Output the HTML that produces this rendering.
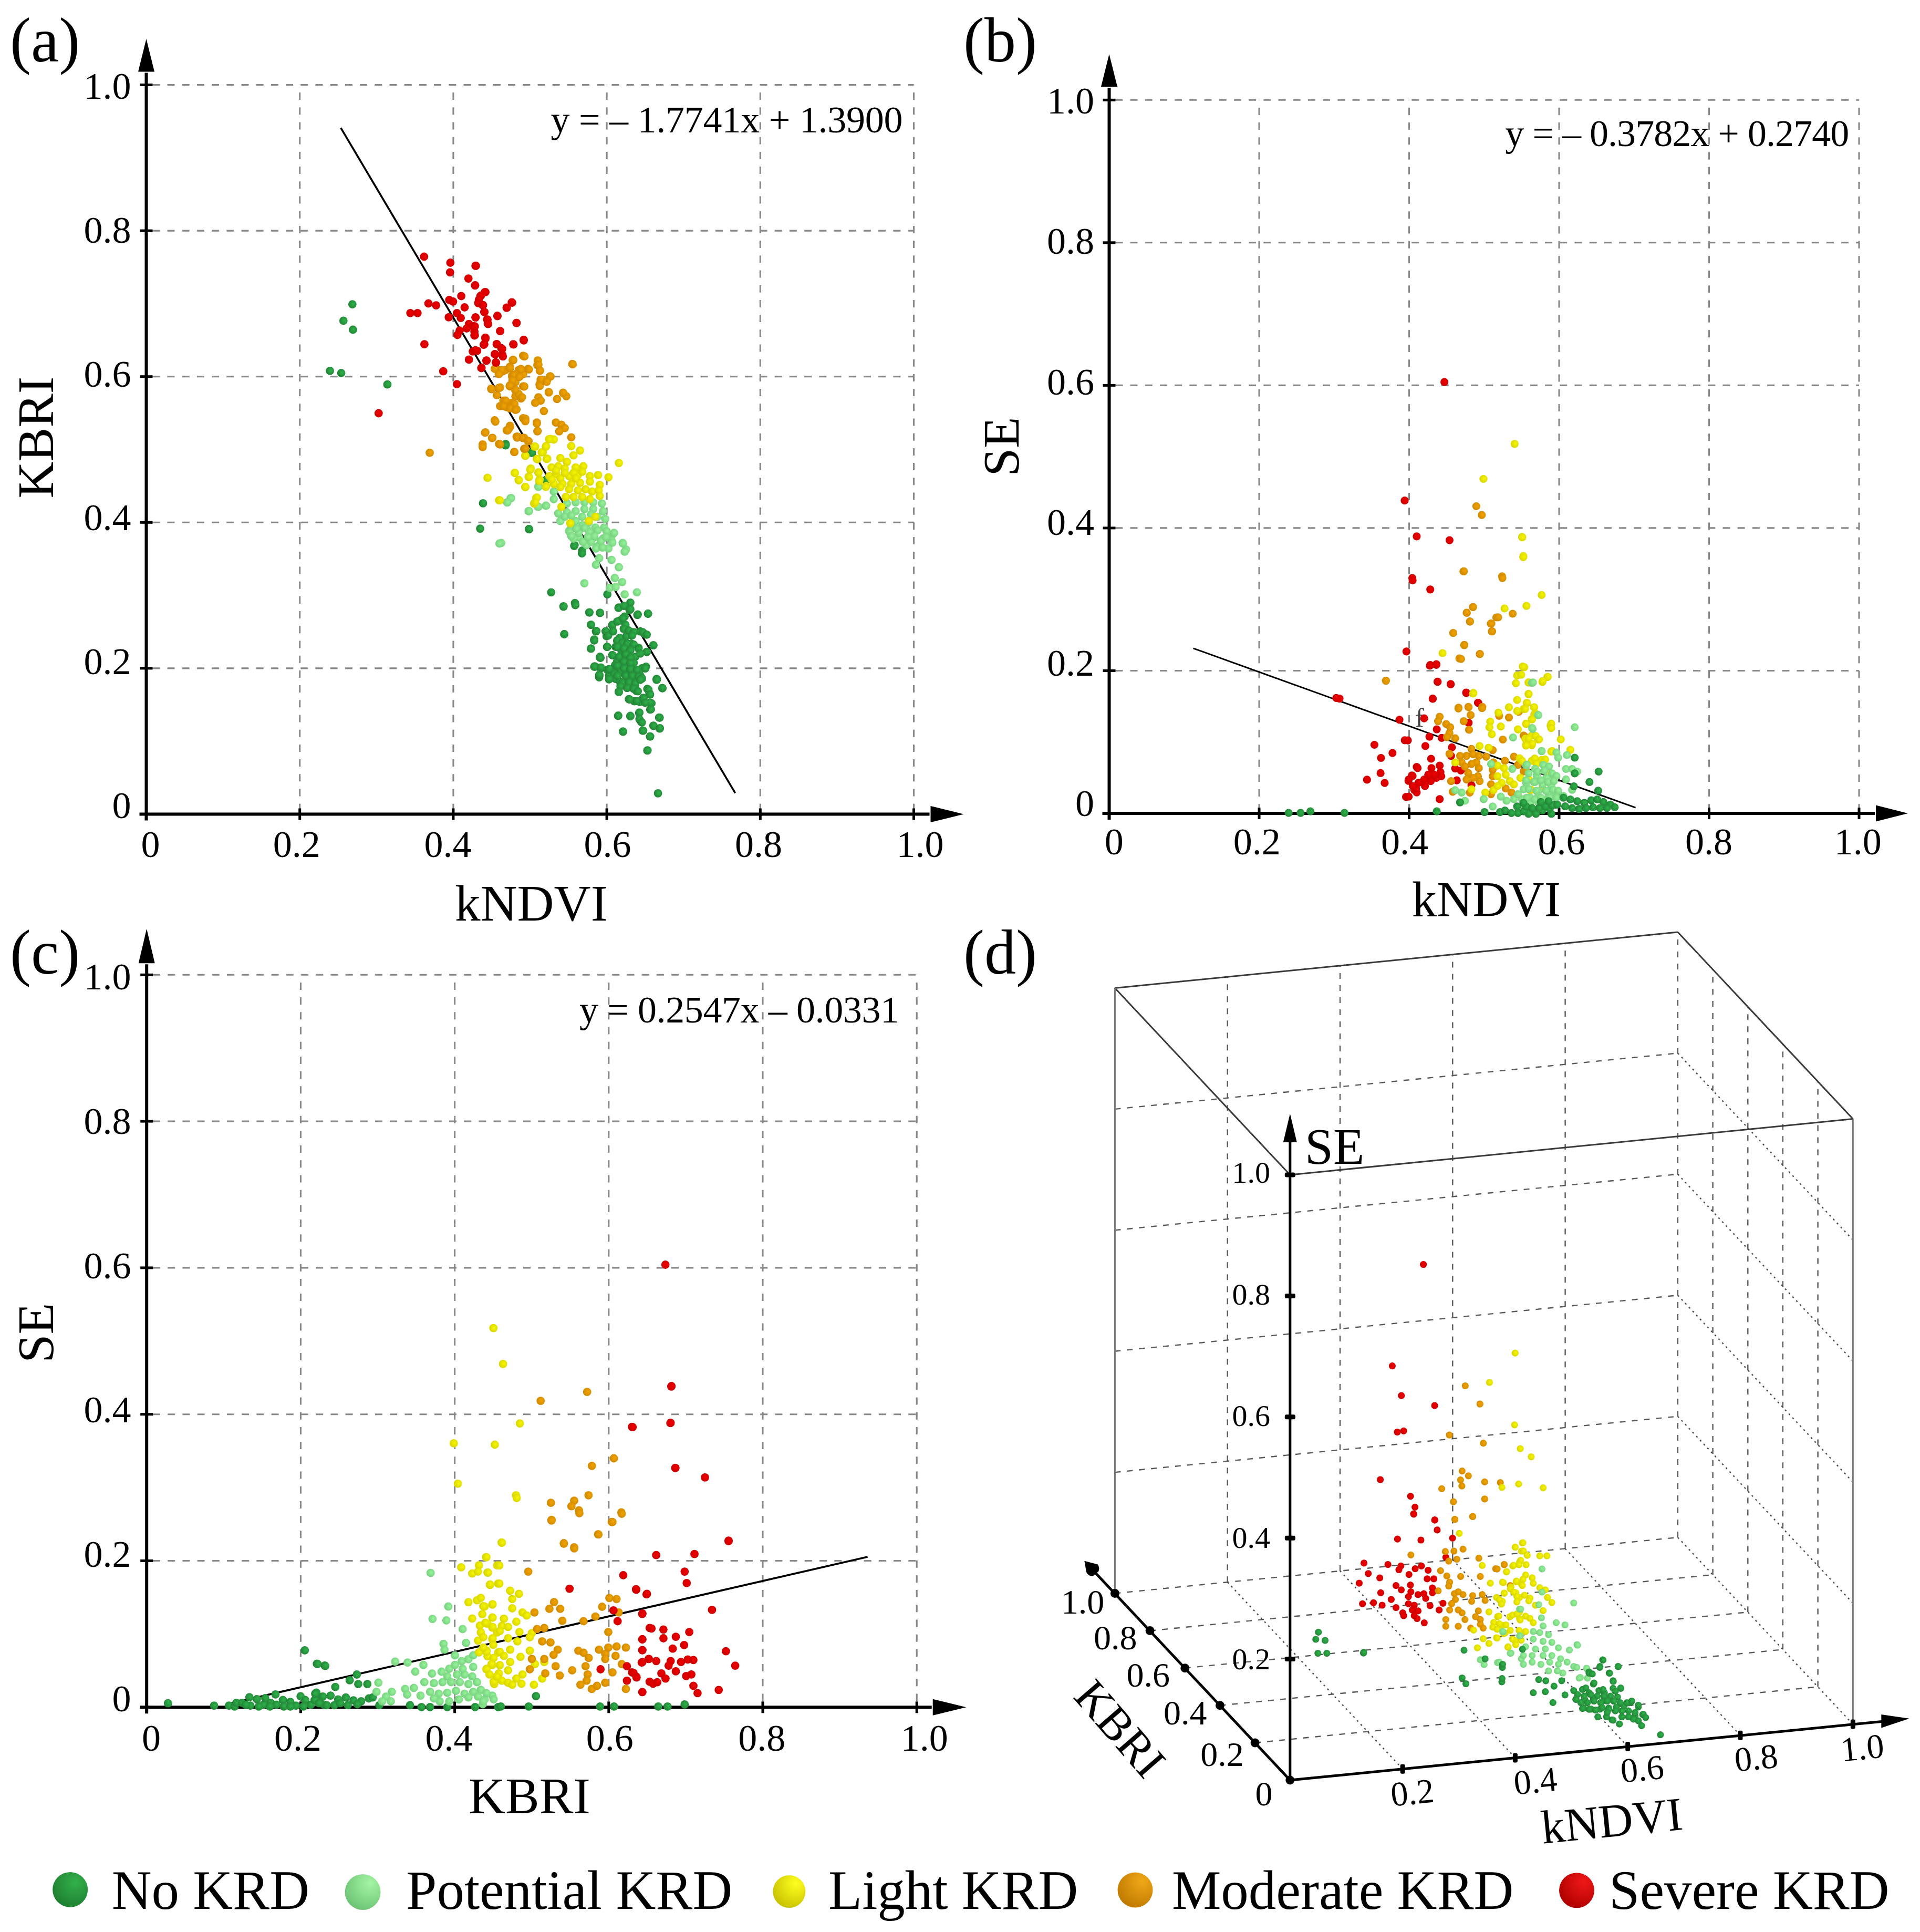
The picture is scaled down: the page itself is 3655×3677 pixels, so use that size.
<!DOCTYPE html><html><head><meta charset="utf-8"><style>html,body{margin:0;padding:0;background:#fff;}svg{display:block}</style></head><body>
<svg xmlns="http://www.w3.org/2000/svg" width="3655" height="3677" viewBox="0 0 3655 3677" font-family="'Liberation Serif', 'Times New Roman', serif">
<rect width="3655" height="3677" fill="#fff"/>
<defs>
<radialGradient id="Lg" cx="0.65" cy="0.3" r="0.8"><stop offset="0" stop-color="#33b04a"/><stop offset="1" stop-color="#1c7a2e"/></radialGradient>
<radialGradient id="Llg" cx="0.7" cy="0.25" r="0.8"><stop offset="0" stop-color="#a4f5a4"/><stop offset="1" stop-color="#6cc474"/></radialGradient>
<radialGradient id="Ly" cx="0.7" cy="0.25" r="0.8"><stop offset="0" stop-color="#ffff20"/><stop offset="1" stop-color="#c8c200"/></radialGradient>
<radialGradient id="Lo" cx="0.7" cy="0.25" r="0.8"><stop offset="0" stop-color="#f0a818"/><stop offset="1" stop-color="#c07a00"/></radialGradient>
<radialGradient id="Lr" cx="0.7" cy="0.25" r="0.8"><stop offset="0" stop-color="#f01818"/><stop offset="1" stop-color="#b00000"/></radialGradient>
<radialGradient id="Dg" cx="0.6" cy="0.45" r="0.6"><stop offset="0" stop-color="#2db24a"/><stop offset="1" stop-color="#238236"/></radialGradient>
<radialGradient id="Dl" cx="0.6" cy="0.45" r="0.6"><stop offset="0" stop-color="#96f29a"/><stop offset="1" stop-color="#76d07e"/></radialGradient>
<radialGradient id="Dy" cx="0.6" cy="0.45" r="0.6"><stop offset="0" stop-color="#f6f600"/><stop offset="1" stop-color="#d8d400"/></radialGradient>
<radialGradient id="Do" cx="0.6" cy="0.45" r="0.6"><stop offset="0" stop-color="#f0a400"/><stop offset="1" stop-color="#d08800"/></radialGradient>
<radialGradient id="Dr" cx="0.6" cy="0.45" r="0.6"><stop offset="0" stop-color="#f00000"/><stop offset="1" stop-color="#c80000"/></radialGradient>
</defs>
<line x1="570.7" y1="161.5" x2="570.7" y2="1549.5" stroke="#888" stroke-width="3.1" stroke-dasharray="14 14.2" fill="none" stroke-dashoffset="13.6"/>
<line x1="278.5" y1="1271.9" x2="1739.5" y2="1271.9" stroke="#888" stroke-width="3.1" stroke-dasharray="14 14.2" fill="none" stroke-dashoffset="16.4"/>
<line x1="862.9" y1="161.5" x2="862.9" y2="1549.5" stroke="#888" stroke-width="3.1" stroke-dasharray="14 14.2" fill="none" stroke-dashoffset="13.6"/>
<line x1="278.5" y1="994.3" x2="1739.5" y2="994.3" stroke="#888" stroke-width="3.1" stroke-dasharray="14 14.2" fill="none" stroke-dashoffset="16.4"/>
<line x1="1155.1" y1="161.5" x2="1155.1" y2="1549.5" stroke="#888" stroke-width="3.1" stroke-dasharray="14 14.2" fill="none" stroke-dashoffset="13.6"/>
<line x1="278.5" y1="716.7" x2="1739.5" y2="716.7" stroke="#888" stroke-width="3.1" stroke-dasharray="14 14.2" fill="none" stroke-dashoffset="16.4"/>
<line x1="1447.3" y1="161.5" x2="1447.3" y2="1549.5" stroke="#888" stroke-width="3.1" stroke-dasharray="14 14.2" fill="none" stroke-dashoffset="13.6"/>
<line x1="278.5" y1="439.1" x2="1739.5" y2="439.1" stroke="#888" stroke-width="3.1" stroke-dasharray="14 14.2" fill="none" stroke-dashoffset="16.4"/>
<line x1="1739.5" y1="161.5" x2="1739.5" y2="1549.5" stroke="#888" stroke-width="3.1" stroke-dasharray="14 14.2" fill="none" stroke-dashoffset="13.6"/>
<line x1="278.5" y1="161.5" x2="1739.5" y2="161.5" stroke="#888" stroke-width="3.1" stroke-dasharray="14 14.2" fill="none" stroke-dashoffset="16.4"/>
<line x1="278.5" y1="1561.5" x2="278.5" y2="138.5" stroke="#000" stroke-width="6" fill="none"/>
<polygon points="278.5,74 263.0,136.5 294.0,136.5" fill="#000"/>
<line x1="265.5" y1="1549.5" x2="1769.5" y2="1549.5" stroke="#000" stroke-width="6" fill="none"/>
<polygon points="1834.7,1549.5 1771.5,1534.0 1771.5,1565.0" fill="#000"/>
<line x1="266.5" y1="1549.5" x2="290.5" y2="1549.5" stroke="#000" stroke-width="5"/>
<line x1="278.5" y1="1538.5" x2="278.5" y2="1560.5" stroke="#000" stroke-width="5"/>
<line x1="266.5" y1="1271.9" x2="290.5" y2="1271.9" stroke="#000" stroke-width="5"/>
<line x1="570.7" y1="1538.5" x2="570.7" y2="1560.5" stroke="#000" stroke-width="5"/>
<line x1="266.5" y1="994.3" x2="290.5" y2="994.3" stroke="#000" stroke-width="5"/>
<line x1="862.9" y1="1538.5" x2="862.9" y2="1560.5" stroke="#000" stroke-width="5"/>
<line x1="266.5" y1="716.7" x2="290.5" y2="716.7" stroke="#000" stroke-width="5"/>
<line x1="1155.1" y1="1538.5" x2="1155.1" y2="1560.5" stroke="#000" stroke-width="5"/>
<line x1="266.5" y1="439.1" x2="290.5" y2="439.1" stroke="#000" stroke-width="5"/>
<line x1="1447.3" y1="1538.5" x2="1447.3" y2="1560.5" stroke="#000" stroke-width="5"/>
<line x1="266.5" y1="161.5" x2="290.5" y2="161.5" stroke="#000" stroke-width="5"/>
<line x1="1739.5" y1="1538.5" x2="1739.5" y2="1560.5" stroke="#000" stroke-width="5"/>
<text x="249.5" y="1557.0" font-size="72" text-anchor="end" >0</text>
<text x="249.5" y="1283.2" font-size="72" text-anchor="end" >0.2</text>
<text x="249.5" y="1009.4" font-size="72" text-anchor="end" >0.4</text>
<text x="249.5" y="735.6" font-size="72" text-anchor="end" >0.6</text>
<text x="249.5" y="461.8" font-size="72" text-anchor="end" >0.8</text>
<text x="249.5" y="188.0" font-size="72" text-anchor="end" >1.0</text>
<text x="268.5" y="1631.0" font-size="72" text-anchor="start" >0</text>
<text x="519.7" y="1631.0" font-size="72" text-anchor="start" >0.2</text>
<text x="807.5" y="1631.0" font-size="72" text-anchor="start" >0.4</text>
<text x="1111.6" y="1631.0" font-size="72" text-anchor="start" >0.6</text>
<text x="1399.0" y="1631.0" font-size="72" text-anchor="start" >0.8</text>
<text x="1706.5" y="1631.0" font-size="72" text-anchor="start" >1.0</text>
<line x1="2397.0" y1="190.3" x2="2397.0" y2="1548.0" stroke="#888" stroke-width="3.1" stroke-dasharray="14 14.2" fill="none" stroke-dashoffset="13.6"/>
<line x1="2111.5" y1="1276.5" x2="3539.0" y2="1276.5" stroke="#888" stroke-width="3.1" stroke-dasharray="14 14.2" fill="none" stroke-dashoffset="16.4"/>
<line x1="2682.5" y1="190.3" x2="2682.5" y2="1548.0" stroke="#888" stroke-width="3.1" stroke-dasharray="14 14.2" fill="none" stroke-dashoffset="13.6"/>
<line x1="2111.5" y1="1004.9" x2="3539.0" y2="1004.9" stroke="#888" stroke-width="3.1" stroke-dasharray="14 14.2" fill="none" stroke-dashoffset="16.4"/>
<line x1="2968.0" y1="190.3" x2="2968.0" y2="1548.0" stroke="#888" stroke-width="3.1" stroke-dasharray="14 14.2" fill="none" stroke-dashoffset="13.6"/>
<line x1="2111.5" y1="733.4" x2="3539.0" y2="733.4" stroke="#888" stroke-width="3.1" stroke-dasharray="14 14.2" fill="none" stroke-dashoffset="16.4"/>
<line x1="3253.5" y1="190.3" x2="3253.5" y2="1548.0" stroke="#888" stroke-width="3.1" stroke-dasharray="14 14.2" fill="none" stroke-dashoffset="13.6"/>
<line x1="2111.5" y1="461.8" x2="3539.0" y2="461.8" stroke="#888" stroke-width="3.1" stroke-dasharray="14 14.2" fill="none" stroke-dashoffset="16.4"/>
<line x1="3539.0" y1="190.3" x2="3539.0" y2="1548.0" stroke="#888" stroke-width="3.1" stroke-dasharray="14 14.2" fill="none" stroke-dashoffset="13.6"/>
<line x1="2111.5" y1="190.3" x2="3539.0" y2="190.3" stroke="#888" stroke-width="3.1" stroke-dasharray="14 14.2" fill="none" stroke-dashoffset="16.4"/>
<line x1="2111.5" y1="1560.0" x2="2111.5" y2="167" stroke="#000" stroke-width="6" fill="none"/>
<polygon points="2111.5,103 2096.0,165 2127.0,165" fill="#000"/>
<line x1="2098.5" y1="1548.0" x2="3569" y2="1548.0" stroke="#000" stroke-width="6" fill="none"/>
<polygon points="3632,1548.0 3571,1532.5 3571,1563.5" fill="#000"/>
<line x1="2099.5" y1="1548.0" x2="2123.5" y2="1548.0" stroke="#000" stroke-width="5"/>
<line x1="2111.5" y1="1537.0" x2="2111.5" y2="1559.0" stroke="#000" stroke-width="5"/>
<line x1="2099.5" y1="1276.5" x2="2123.5" y2="1276.5" stroke="#000" stroke-width="5"/>
<line x1="2397.0" y1="1537.0" x2="2397.0" y2="1559.0" stroke="#000" stroke-width="5"/>
<line x1="2099.5" y1="1004.9" x2="2123.5" y2="1004.9" stroke="#000" stroke-width="5"/>
<line x1="2682.5" y1="1537.0" x2="2682.5" y2="1559.0" stroke="#000" stroke-width="5"/>
<line x1="2099.5" y1="733.4" x2="2123.5" y2="733.4" stroke="#000" stroke-width="5"/>
<line x1="2968.0" y1="1537.0" x2="2968.0" y2="1559.0" stroke="#000" stroke-width="5"/>
<line x1="2099.5" y1="461.8" x2="2123.5" y2="461.8" stroke="#000" stroke-width="5"/>
<line x1="3253.5" y1="1537.0" x2="3253.5" y2="1559.0" stroke="#000" stroke-width="5"/>
<line x1="2099.5" y1="190.3" x2="2123.5" y2="190.3" stroke="#000" stroke-width="5"/>
<line x1="3539.0" y1="1537.0" x2="3539.0" y2="1559.0" stroke="#000" stroke-width="5"/>
<text x="2083.0" y="1553.0" font-size="72" text-anchor="end" >0</text>
<text x="2083.0" y="1285.6" font-size="72" text-anchor="end" >0.2</text>
<text x="2083.0" y="1018.2" font-size="72" text-anchor="end" >0.4</text>
<text x="2083.0" y="750.8" font-size="72" text-anchor="end" >0.6</text>
<text x="2083.0" y="483.4" font-size="72" text-anchor="end" >0.8</text>
<text x="2083.0" y="216.0" font-size="72" text-anchor="end" >1.0</text>
<text x="2102.8" y="1625.5" font-size="72" text-anchor="start" >0</text>
<text x="2347.8" y="1625.5" font-size="72" text-anchor="start" >0.2</text>
<text x="2629.0" y="1625.5" font-size="72" text-anchor="start" >0.4</text>
<text x="2927.5" y="1625.5" font-size="72" text-anchor="start" >0.6</text>
<text x="3208.0" y="1625.5" font-size="72" text-anchor="start" >0.8</text>
<text x="3491.7" y="1625.5" font-size="72" text-anchor="start" >1.0</text>
<line x1="572.4" y1="1855.3" x2="572.4" y2="3249.3" stroke="#888" stroke-width="3.1" stroke-dasharray="14 14.2" fill="none" stroke-dashoffset="13.6"/>
<line x1="279.2" y1="2970.5" x2="1745.2" y2="2970.5" stroke="#888" stroke-width="3.1" stroke-dasharray="14 14.2" fill="none" stroke-dashoffset="16.4"/>
<line x1="865.6" y1="1855.3" x2="865.6" y2="3249.3" stroke="#888" stroke-width="3.1" stroke-dasharray="14 14.2" fill="none" stroke-dashoffset="13.6"/>
<line x1="279.2" y1="2691.7" x2="1745.2" y2="2691.7" stroke="#888" stroke-width="3.1" stroke-dasharray="14 14.2" fill="none" stroke-dashoffset="16.4"/>
<line x1="1158.8" y1="1855.3" x2="1158.8" y2="3249.3" stroke="#888" stroke-width="3.1" stroke-dasharray="14 14.2" fill="none" stroke-dashoffset="13.6"/>
<line x1="279.2" y1="2412.9" x2="1745.2" y2="2412.9" stroke="#888" stroke-width="3.1" stroke-dasharray="14 14.2" fill="none" stroke-dashoffset="16.4"/>
<line x1="1452.0" y1="1855.3" x2="1452.0" y2="3249.3" stroke="#888" stroke-width="3.1" stroke-dasharray="14 14.2" fill="none" stroke-dashoffset="13.6"/>
<line x1="279.2" y1="2134.1" x2="1745.2" y2="2134.1" stroke="#888" stroke-width="3.1" stroke-dasharray="14 14.2" fill="none" stroke-dashoffset="16.4"/>
<line x1="1745.2" y1="1855.3" x2="1745.2" y2="3249.3" stroke="#888" stroke-width="3.1" stroke-dasharray="14 14.2" fill="none" stroke-dashoffset="13.6"/>
<line x1="279.2" y1="1855.3" x2="1745.2" y2="1855.3" stroke="#888" stroke-width="3.1" stroke-dasharray="14 14.2" fill="none" stroke-dashoffset="16.4"/>
<line x1="279.2" y1="3261.3" x2="279.2" y2="1835.3" stroke="#000" stroke-width="6" fill="none"/>
<polygon points="279.2,1767.7 263.7,1833.3 294.7,1833.3" fill="#000"/>
<line x1="266.2" y1="3249.3" x2="1773.7" y2="3249.3" stroke="#000" stroke-width="6" fill="none"/>
<polygon points="1839.4,3249.3 1775.7,3233.8 1775.7,3264.8" fill="#000"/>
<line x1="267.2" y1="3249.3" x2="291.2" y2="3249.3" stroke="#000" stroke-width="5"/>
<line x1="279.2" y1="3238.3" x2="279.2" y2="3260.3" stroke="#000" stroke-width="5"/>
<line x1="267.2" y1="2970.5" x2="291.2" y2="2970.5" stroke="#000" stroke-width="5"/>
<line x1="572.4" y1="3238.3" x2="572.4" y2="3260.3" stroke="#000" stroke-width="5"/>
<line x1="267.2" y1="2691.7" x2="291.2" y2="2691.7" stroke="#000" stroke-width="5"/>
<line x1="865.6" y1="3238.3" x2="865.6" y2="3260.3" stroke="#000" stroke-width="5"/>
<line x1="267.2" y1="2412.9" x2="291.2" y2="2412.9" stroke="#000" stroke-width="5"/>
<line x1="1158.8" y1="3238.3" x2="1158.8" y2="3260.3" stroke="#000" stroke-width="5"/>
<line x1="267.2" y1="2134.1" x2="291.2" y2="2134.1" stroke="#000" stroke-width="5"/>
<line x1="1452.0" y1="3238.3" x2="1452.0" y2="3260.3" stroke="#000" stroke-width="5"/>
<line x1="267.2" y1="1855.3" x2="291.2" y2="1855.3" stroke="#000" stroke-width="5"/>
<line x1="1745.2" y1="3238.3" x2="1745.2" y2="3260.3" stroke="#000" stroke-width="5"/>
<text x="249.5" y="3257.0" font-size="72" text-anchor="end" >0</text>
<text x="249.5" y="2982.2" font-size="72" text-anchor="end" >0.2</text>
<text x="249.5" y="2707.4" font-size="72" text-anchor="end" >0.4</text>
<text x="249.5" y="2432.6" font-size="72" text-anchor="end" >0.6</text>
<text x="249.5" y="2157.8" font-size="72" text-anchor="end" >0.8</text>
<text x="249.5" y="1883.0" font-size="72" text-anchor="end" >1.0</text>
<text x="269.9" y="3332.0" font-size="72" text-anchor="start" >0</text>
<text x="522.0" y="3332.0" font-size="72" text-anchor="start" >0.2</text>
<text x="809.5" y="3332.0" font-size="72" text-anchor="start" >0.4</text>
<text x="1115.8" y="3332.0" font-size="72" text-anchor="start" >0.6</text>
<text x="1405.3" y="3332.0" font-size="72" text-anchor="start" >0.8</text>
<text x="1714.8" y="3332.0" font-size="72" text-anchor="start" >1.0</text>
<text x="19.0" y="117.0" font-size="120" text-anchor="start" >(a)</text>
<text x="1834.0" y="117.0" font-size="120" text-anchor="start" >(b)</text>
<text x="19.0" y="1853.0" font-size="120" text-anchor="start" >(c)</text>
<text x="1834.0" y="1853.0" font-size="120" text-anchor="start" >(d)</text>
<text x="866.0" y="1752.0" font-size="97" text-anchor="start" >kNDVI</text>
<text transform="translate(100.7,948.6) rotate(-90)" font-size="97">KBRI</text>
<text x="2687.7" y="1743.5" font-size="94.5" text-anchor="start" >kNDVI</text>
<text transform="translate(1938.5,906.8) rotate(-90)" font-size="97">SE</text>
<text transform="translate(100.7,2594) rotate(-90)" font-size="98">SE</text>
<text x="892.0" y="3451.3" font-size="97" text-anchor="start" >KBRI</text>
<text x="1048.5" y="252.3" font-size="72" text-anchor="start" textLength="670" lengthAdjust="spacing">y = – 1.7741x + 1.3900</text>
<text x="2865.2" y="278.0" font-size="72" text-anchor="start" textLength="655" lengthAdjust="spacing">y = – 0.3782x + 0.2740</text>
<text x="1103.0" y="1945.5" font-size="72" text-anchor="start" textLength="609" lengthAdjust="spacing">y = 0.2547x – 0.0331</text>
<circle cx="133.6" cy="3596.4" r="33.5" fill="url(#Lg)"/>
<text x="212.7" y="3632.5" font-size="105" text-anchor="start" >No KRD</text>
<circle cx="690.6" cy="3601" r="34" fill="url(#Llg)"/>
<text x="773.0" y="3632.5" font-size="105" text-anchor="start" >Potential KRD</text>
<circle cx="1502.4" cy="3600" r="31" fill="url(#Ly)"/>
<text x="1577.0" y="3632.5" font-size="105" text-anchor="start" >Light KRD</text>
<circle cx="2161" cy="3597" r="33.5" fill="url(#Lo)"/>
<text x="2231.0" y="3632.5" font-size="105" text-anchor="start" >Moderate KRD</text>
<circle cx="3001.5" cy="3597.8" r="33.5" fill="url(#Lr)"/>
<text x="3063.0" y="3632.5" font-size="105" text-anchor="start" >Severe KRD</text>
<line x1="2336.7" y1="3011.2" x2="2336.7" y2="1859.2" stroke="#5a5a5a" stroke-width="2.4" stroke-dasharray="11 12"/>
<line x1="2122.4" y1="2802.1" x2="3193.9" y2="2695.6" stroke="#5a5a5a" stroke-width="2.4" stroke-dasharray="11 12"/>
<line x1="3460.6" y1="3210.4" x2="3460.6" y2="2058.4" stroke="#5a5a5a" stroke-width="2.4" stroke-dasharray="11 12"/>
<line x1="3527.3" y1="3051.1" x2="3193.9" y2="2695.6" stroke="#4a4a4a" stroke-width="2.4" stroke-dasharray="3.4 6.9"/>
<line x1="2389.1" y1="3316.9" x2="3460.6" y2="3210.4" stroke="#5a5a5a" stroke-width="2.4" stroke-dasharray="11 12"/>
<line x1="2670.1" y1="3366.7" x2="2336.7" y2="3011.2" stroke="#4a4a4a" stroke-width="2.4" stroke-dasharray="3.4 6.9"/>
<line x1="2551.0" y1="2989.9" x2="2551.0" y2="1837.9" stroke="#5a5a5a" stroke-width="2.4" stroke-dasharray="11 12"/>
<line x1="2122.4" y1="2571.7" x2="3193.9" y2="2465.2" stroke="#5a5a5a" stroke-width="2.4" stroke-dasharray="11 12"/>
<line x1="3393.9" y1="3139.3" x2="3393.9" y2="1987.3" stroke="#5a5a5a" stroke-width="2.4" stroke-dasharray="11 12"/>
<line x1="3527.3" y1="2820.7" x2="3193.9" y2="2465.2" stroke="#4a4a4a" stroke-width="2.4" stroke-dasharray="3.4 6.9"/>
<line x1="2322.4" y1="3245.8" x2="3393.9" y2="3139.3" stroke="#5a5a5a" stroke-width="2.4" stroke-dasharray="11 12"/>
<line x1="2884.4" y1="3345.4" x2="2551.0" y2="2989.9" stroke="#4a4a4a" stroke-width="2.4" stroke-dasharray="3.4 6.9"/>
<line x1="2765.3" y1="2968.6" x2="2765.3" y2="1816.6" stroke="#5a5a5a" stroke-width="2.4" stroke-dasharray="11 12"/>
<line x1="2122.4" y1="2341.3" x2="3193.9" y2="2234.8" stroke="#5a5a5a" stroke-width="2.4" stroke-dasharray="11 12"/>
<line x1="3327.3" y1="3068.2" x2="3327.3" y2="1916.2" stroke="#5a5a5a" stroke-width="2.4" stroke-dasharray="11 12"/>
<line x1="3527.3" y1="2590.3" x2="3193.9" y2="2234.8" stroke="#4a4a4a" stroke-width="2.4" stroke-dasharray="3.4 6.9"/>
<line x1="2255.8" y1="3174.7" x2="3327.3" y2="3068.2" stroke="#5a5a5a" stroke-width="2.4" stroke-dasharray="11 12"/>
<line x1="3098.7" y1="3324.1" x2="2765.3" y2="2968.6" stroke="#4a4a4a" stroke-width="2.4" stroke-dasharray="3.4 6.9"/>
<line x1="2979.6" y1="2947.3" x2="2979.6" y2="1795.3" stroke="#5a5a5a" stroke-width="2.4" stroke-dasharray="11 12"/>
<line x1="2122.4" y1="2110.9" x2="3193.9" y2="2004.4" stroke="#5a5a5a" stroke-width="2.4" stroke-dasharray="11 12"/>
<line x1="3260.6" y1="2997.1" x2="3260.6" y2="1845.1" stroke="#5a5a5a" stroke-width="2.4" stroke-dasharray="11 12"/>
<line x1="3527.3" y1="2359.9" x2="3193.9" y2="2004.4" stroke="#4a4a4a" stroke-width="2.4" stroke-dasharray="3.4 6.9"/>
<line x1="2189.1" y1="3103.6" x2="3260.6" y2="2997.1" stroke="#5a5a5a" stroke-width="2.4" stroke-dasharray="11 12"/>
<line x1="3313.0" y1="3302.8" x2="2979.6" y2="2947.3" stroke="#4a4a4a" stroke-width="2.4" stroke-dasharray="3.4 6.9"/>
<line x1="2122.4" y1="3032.5" x2="3193.9" y2="2926.0" stroke="#5a5a5a" stroke-width="2.4" stroke-dasharray="11 12"/>
<line x1="3527.3" y1="3281.5" x2="3193.9" y2="2926.0" stroke="#4a4a4a" stroke-width="2.4" stroke-dasharray="3.4 6.9"/>
<line x1="3193.9" y1="2926.0" x2="3193.9" y2="1774.0" stroke="#5a5a5a" stroke-width="2.4" stroke-dasharray="11 12"/>
<line x1="2455.8" y1="2236.0" x2="3527.3" y2="2129.5" stroke="#3a3a3a" stroke-width="3"/>
<line x1="2455.8" y1="2236.0" x2="2122.4" y2="1880.5" stroke="#3a3a3a" stroke-width="3"/>
<line x1="2122.4" y1="1880.5" x2="3193.9" y2="1774.0" stroke="#3a3a3a" stroke-width="3"/>
<line x1="3527.3" y1="2129.5" x2="3193.9" y2="1774.0" stroke="#3a3a3a" stroke-width="3"/>
<line x1="2122.4" y1="3032.5" x2="2122.4" y2="1880.5" stroke="#777" stroke-width="3"/>
<line x1="3527.3" y1="3281.5" x2="3527.3" y2="2129.5" stroke="#777" stroke-width="3"/>
<g id="d-axes">
<line x1="2455.8" y1="3388.0" x2="2455.8" y2="2172" stroke="#000" stroke-width="5" fill="none"/>
<polygon points="2455.8,2119.6 2442.8,2174 2468.8,2174" fill="#000"/>
<line x1="2455.8" y1="3388.0" x2="3584" y2="3276.2" stroke="#000" stroke-width="5" fill="none"/>
<polygon points="3634.6,3270.7 3581.3,3262.9 3581.3,3288.4" fill="#000"/>
<line x1="2455.8" y1="3388.0" x2="2082" y2="2990" stroke="#000" stroke-width="5" fill="none"/>
<path d="M2064.4,2970.7 L2090,2977.5 Q2094,2985 2091,2991 L2080,3000 Q2071,2999 2068,2992 Z" fill="#000"/>
<circle cx="2455.8" cy="3388.0" r="8.5" fill="#000"/>
<circle cx="2389.1" cy="3316.9" r="8.5" fill="#000"/>
<rect x="2665.6" y="3357.7" width="9" height="18" rx="3" fill="#000"/>
<rect x="2445.8" y="3153.1" width="20" height="9" rx="3" fill="#000"/>
<circle cx="2322.4" cy="3245.8" r="8.5" fill="#000"/>
<rect x="2879.9" y="3336.4" width="9" height="18" rx="3" fill="#000"/>
<rect x="2445.8" y="2922.7" width="20" height="9" rx="3" fill="#000"/>
<circle cx="2255.8" cy="3174.7" r="8.5" fill="#000"/>
<rect x="3094.2" y="3315.1" width="9" height="18" rx="3" fill="#000"/>
<rect x="2445.8" y="2692.3" width="20" height="9" rx="3" fill="#000"/>
<circle cx="2189.1" cy="3103.6" r="8.5" fill="#000"/>
<rect x="3308.5" y="3293.8" width="9" height="18" rx="3" fill="#000"/>
<rect x="2445.8" y="2461.9" width="20" height="9" rx="3" fill="#000"/>
<circle cx="2122.4" cy="3032.5" r="8.5" fill="#000"/>
<rect x="3522.8" y="3272.5" width="9" height="18" rx="3" fill="#000"/>
<rect x="2445.8" y="2231.5" width="20" height="9" rx="3" fill="#000"/>
</g>
<text x="2019.7" y="3070.9" font-size="66" text-anchor="start" >1.0</text>
<text x="2082.1" y="3138.6" font-size="66" text-anchor="start" >0.8</text>
<text x="2144.5" y="3210.2" font-size="66" text-anchor="start" >0.6</text>
<text x="2214.9" y="3281.8" font-size="66" text-anchor="start" >0.4</text>
<text x="2285.3" y="3360.5" font-size="66" text-anchor="start" >0.2</text>
<text x="2389.5" y="3435.5" font-size="66" text-anchor="start" >0</text>
<text x="2418.0" y="3177.0" font-size="58" text-anchor="end" >0.2</text>
<text x="2418.0" y="2945.5" font-size="58" text-anchor="end" >0.4</text>
<text x="2418.0" y="2714.0" font-size="58" text-anchor="end" >0.6</text>
<text x="2418.0" y="2482.5" font-size="58" text-anchor="end" >0.8</text>
<text x="2418.0" y="2251.0" font-size="58" text-anchor="end" >1.0</text>
<text transform="translate(2688.5,3410.8) rotate(-5.7)" x="0" y="23" font-size="66" text-anchor="middle">0.2</text>
<text transform="translate(2922.8,3388.8) rotate(-5.7)" x="0" y="23" font-size="66" text-anchor="middle">0.4</text>
<text transform="translate(3126,3365.8) rotate(-5.7)" x="0" y="23" font-size="66" text-anchor="middle">0.6</text>
<text transform="translate(3343,3344.8) rotate(-5.7)" x="0" y="23" font-size="66" text-anchor="middle">0.8</text>
<text transform="translate(3545,3325.5) rotate(-5.7)" x="0" y="23" font-size="66" text-anchor="middle">1.0</text>
<text transform="translate(3068.3,3464.4) rotate(-5.7)" x="0" y="31" font-size="90" text-anchor="middle">kNDVI</text>
<text transform="translate(2132,3290.4) rotate(49)" x="0" y="29" font-size="88" text-anchor="middle">KBRI</text>
<text x="2484.0" y="2214.8" font-size="97" text-anchor="start" >SE</text>
<line x1="648.8" y1="243.4" x2="1399.6" y2="1509.4" stroke="#000" stroke-width="3.6"/>
<circle cx="670.8" cy="579.2" r="7.9" fill="url(#Dg)"/>
<circle cx="653.8" cy="610.4" r="7.9" fill="url(#Dg)"/>
<circle cx="671.9" cy="627.5" r="7.9" fill="url(#Dg)"/>
<circle cx="628.1" cy="705.8" r="7.9" fill="url(#Dg)"/>
<circle cx="649.6" cy="710.0" r="7.9" fill="url(#Dg)"/>
<circle cx="737.5" cy="731.7" r="7.9" fill="url(#Dg)"/>
<circle cx="962.5" cy="844.8" r="7.9" fill="url(#Dg)"/>
<circle cx="962.5" cy="846.9" r="7.9" fill="url(#Dg)"/>
<circle cx="1012.5" cy="861.5" r="7.9" fill="url(#Dg)"/>
<circle cx="1039.6" cy="913.5" r="7.9" fill="url(#Dg)"/>
<circle cx="1007.3" cy="1007.3" r="7.9" fill="url(#Dg)"/>
<circle cx="1093.8" cy="1037.5" r="7.9" fill="url(#Dg)"/>
<circle cx="1108.3" cy="1047.9" r="7.9" fill="url(#Dg)"/>
<circle cx="1007.0" cy="1007.0" r="7.9" fill="url(#Dg)"/>
<circle cx="1093.0" cy="1039.1" r="7.9" fill="url(#Dg)"/>
<circle cx="1107.8" cy="1053.1" r="7.9" fill="url(#Dg)"/>
<circle cx="1049.2" cy="1127.3" r="7.9" fill="url(#Dg)"/>
<circle cx="1156.2" cy="1131.2" r="7.9" fill="url(#Dg)"/>
<circle cx="1072.7" cy="1153.9" r="7.9" fill="url(#Dg)"/>
<circle cx="1094.5" cy="1147.7" r="7.9" fill="url(#Dg)"/>
<circle cx="1121.9" cy="1165.6" r="7.9" fill="url(#Dg)"/>
<circle cx="1142.2" cy="1166.4" r="7.9" fill="url(#Dg)"/>
<circle cx="1178.1" cy="1156.2" r="7.9" fill="url(#Dg)"/>
<circle cx="1200.0" cy="1146.9" r="7.9" fill="url(#Dg)"/>
<circle cx="1198.4" cy="1160.9" r="7.9" fill="url(#Dg)"/>
<circle cx="1214.1" cy="1169.5" r="7.9" fill="url(#Dg)"/>
<circle cx="1233.6" cy="1168.0" r="7.9" fill="url(#Dg)"/>
<circle cx="1125.0" cy="1189.1" r="7.9" fill="url(#Dg)"/>
<circle cx="1134.4" cy="1201.6" r="7.9" fill="url(#Dg)"/>
<circle cx="1153.1" cy="1201.6" r="7.9" fill="url(#Dg)"/>
<circle cx="1165.6" cy="1190.6" r="7.9" fill="url(#Dg)"/>
<circle cx="1179.7" cy="1181.2" r="7.9" fill="url(#Dg)"/>
<circle cx="1189.1" cy="1173.4" r="7.9" fill="url(#Dg)"/>
<circle cx="1187.5" cy="1196.9" r="7.9" fill="url(#Dg)"/>
<circle cx="1203.1" cy="1203.1" r="7.9" fill="url(#Dg)"/>
<circle cx="1226.6" cy="1206.2" r="7.9" fill="url(#Dg)"/>
<circle cx="1218.8" cy="1201.6" r="7.9" fill="url(#Dg)"/>
<circle cx="1074.2" cy="1207.0" r="7.9" fill="url(#Dg)"/>
<circle cx="1131.2" cy="1217.2" r="7.9" fill="url(#Dg)"/>
<circle cx="1154.7" cy="1210.9" r="7.9" fill="url(#Dg)"/>
<circle cx="1125.0" cy="1234.4" r="7.9" fill="url(#Dg)"/>
<circle cx="1155.5" cy="1231.2" r="7.9" fill="url(#Dg)"/>
<circle cx="1175.0" cy="1220.3" r="7.9" fill="url(#Dg)"/>
<circle cx="1187.5" cy="1223.4" r="7.9" fill="url(#Dg)"/>
<circle cx="1201.6" cy="1225.0" r="7.9" fill="url(#Dg)"/>
<circle cx="1215.6" cy="1232.8" r="7.9" fill="url(#Dg)"/>
<circle cx="1231.2" cy="1240.6" r="7.9" fill="url(#Dg)"/>
<circle cx="1243.8" cy="1228.1" r="7.9" fill="url(#Dg)"/>
<circle cx="1142.2" cy="1250.0" r="7.9" fill="url(#Dg)"/>
<circle cx="1165.6" cy="1246.9" r="7.9" fill="url(#Dg)"/>
<circle cx="1182.8" cy="1237.5" r="7.9" fill="url(#Dg)"/>
<circle cx="1195.3" cy="1243.8" r="7.9" fill="url(#Dg)"/>
<circle cx="1184.4" cy="1253.1" r="7.9" fill="url(#Dg)"/>
<circle cx="1200.0" cy="1256.2" r="7.9" fill="url(#Dg)"/>
<circle cx="1209.4" cy="1250.0" r="7.9" fill="url(#Dg)"/>
<circle cx="1132.8" cy="1268.8" r="7.9" fill="url(#Dg)"/>
<circle cx="1143.8" cy="1271.9" r="7.9" fill="url(#Dg)"/>
<circle cx="1156.2" cy="1275.0" r="7.9" fill="url(#Dg)"/>
<circle cx="1170.3" cy="1268.8" r="7.9" fill="url(#Dg)"/>
<circle cx="1182.8" cy="1265.6" r="7.9" fill="url(#Dg)"/>
<circle cx="1195.3" cy="1268.8" r="7.9" fill="url(#Dg)"/>
<circle cx="1207.8" cy="1275.0" r="7.9" fill="url(#Dg)"/>
<circle cx="1221.9" cy="1271.9" r="7.9" fill="url(#Dg)"/>
<circle cx="1229.7" cy="1268.8" r="7.9" fill="url(#Dg)"/>
<circle cx="1140.6" cy="1289.1" r="7.9" fill="url(#Dg)"/>
<circle cx="1159.4" cy="1285.9" r="7.9" fill="url(#Dg)"/>
<circle cx="1171.9" cy="1292.2" r="7.9" fill="url(#Dg)"/>
<circle cx="1187.5" cy="1281.2" r="7.9" fill="url(#Dg)"/>
<circle cx="1203.1" cy="1284.4" r="7.9" fill="url(#Dg)"/>
<circle cx="1218.8" cy="1285.9" r="7.9" fill="url(#Dg)"/>
<circle cx="1250.0" cy="1292.2" r="7.9" fill="url(#Dg)"/>
<circle cx="1195.3" cy="1295.3" r="7.9" fill="url(#Dg)"/>
<circle cx="1179.7" cy="1296.9" r="7.9" fill="url(#Dg)"/>
<circle cx="1171.9" cy="1231.2" r="7.9" fill="url(#Dg)"/>
<circle cx="1179.7" cy="1214.1" r="7.9" fill="url(#Dg)"/>
<circle cx="1192.2" cy="1210.9" r="7.9" fill="url(#Dg)"/>
<circle cx="1195.3" cy="1234.4" r="7.9" fill="url(#Dg)"/>
<circle cx="1175.0" cy="1257.8" r="7.9" fill="url(#Dg)"/>
<circle cx="1143.2" cy="1252.0" r="7.9" fill="url(#Dg)"/>
<circle cx="1132.1" cy="1268.2" r="7.9" fill="url(#Dg)"/>
<circle cx="1142.5" cy="1270.8" r="7.9" fill="url(#Dg)"/>
<circle cx="1160.7" cy="1274.7" r="7.9" fill="url(#Dg)"/>
<circle cx="1171.1" cy="1265.6" r="7.9" fill="url(#Dg)"/>
<circle cx="1184.2" cy="1257.8" r="7.9" fill="url(#Dg)"/>
<circle cx="1197.2" cy="1257.8" r="7.9" fill="url(#Dg)"/>
<circle cx="1206.3" cy="1261.7" r="7.9" fill="url(#Dg)"/>
<circle cx="1141.2" cy="1285.2" r="7.9" fill="url(#Dg)"/>
<circle cx="1159.4" cy="1293.0" r="7.9" fill="url(#Dg)"/>
<circle cx="1169.8" cy="1282.6" r="7.9" fill="url(#Dg)"/>
<circle cx="1181.6" cy="1276.0" r="7.9" fill="url(#Dg)"/>
<circle cx="1192.0" cy="1282.6" r="7.9" fill="url(#Dg)"/>
<circle cx="1203.7" cy="1289.1" r="7.9" fill="url(#Dg)"/>
<circle cx="1211.5" cy="1282.6" r="7.9" fill="url(#Dg)"/>
<circle cx="1221.9" cy="1291.7" r="7.9" fill="url(#Dg)"/>
<circle cx="1228.4" cy="1272.1" r="7.9" fill="url(#Dg)"/>
<circle cx="1216.7" cy="1277.3" r="7.9" fill="url(#Dg)"/>
<circle cx="1181.6" cy="1303.4" r="7.9" fill="url(#Dg)"/>
<circle cx="1195.9" cy="1299.5" r="7.9" fill="url(#Dg)"/>
<circle cx="1208.9" cy="1304.7" r="7.9" fill="url(#Dg)"/>
<circle cx="1211.5" cy="1315.1" r="7.9" fill="url(#Dg)"/>
<circle cx="1177.7" cy="1316.4" r="7.9" fill="url(#Dg)"/>
<circle cx="1232.3" cy="1311.2" r="7.9" fill="url(#Dg)"/>
<circle cx="1236.2" cy="1319.0" r="7.9" fill="url(#Dg)"/>
<circle cx="1250.6" cy="1293.0" r="7.9" fill="url(#Dg)"/>
<circle cx="1261.0" cy="1309.9" r="7.9" fill="url(#Dg)"/>
<circle cx="1197.2" cy="1330.7" r="7.9" fill="url(#Dg)"/>
<circle cx="1207.6" cy="1334.6" r="7.9" fill="url(#Dg)"/>
<circle cx="1218.0" cy="1335.9" r="7.9" fill="url(#Dg)"/>
<circle cx="1224.5" cy="1328.1" r="7.9" fill="url(#Dg)"/>
<circle cx="1240.2" cy="1338.5" r="7.9" fill="url(#Dg)"/>
<circle cx="1237.6" cy="1350.3" r="7.9" fill="url(#Dg)"/>
<circle cx="1177.0" cy="1362.0" r="7.9" fill="url(#Dg)"/>
<circle cx="1199.8" cy="1363.3" r="7.9" fill="url(#Dg)"/>
<circle cx="1216.7" cy="1356.8" r="7.9" fill="url(#Dg)"/>
<circle cx="1220.6" cy="1373.7" r="7.9" fill="url(#Dg)"/>
<circle cx="1255.8" cy="1365.9" r="7.9" fill="url(#Dg)"/>
<circle cx="1244.1" cy="1381.5" r="7.9" fill="url(#Dg)"/>
<circle cx="1255.8" cy="1386.7" r="7.9" fill="url(#Dg)"/>
<circle cx="1224.5" cy="1390.6" r="7.9" fill="url(#Dg)"/>
<circle cx="1186.1" cy="1392.6" r="7.9" fill="url(#Dg)"/>
<circle cx="1237.6" cy="1401.7" r="7.9" fill="url(#Dg)"/>
<circle cx="1232.3" cy="1428.4" r="7.9" fill="url(#Dg)"/>
<circle cx="1192.0" cy="1268.2" r="7.9" fill="url(#Dg)"/>
<circle cx="1199.8" cy="1276.0" r="7.9" fill="url(#Dg)"/>
<circle cx="1194.6" cy="1291.7" r="7.9" fill="url(#Dg)"/>
<circle cx="1252.6" cy="1509.8" r="7.9" fill="url(#Dg)"/>
<circle cx="962.5" cy="847.7" r="7.9" fill="url(#Dg)"/>
<circle cx="1011.7" cy="861.7" r="7.9" fill="url(#Dg)"/>
<circle cx="919.5" cy="957.8" r="7.9" fill="url(#Dg)"/>
<circle cx="914.1" cy="1006.2" r="7.9" fill="url(#Dg)"/>
<circle cx="1007.0" cy="1007.0" r="7.9" fill="url(#Dg)"/>
<circle cx="1039.1" cy="914.1" r="7.9" fill="url(#Dg)"/>
<circle cx="1072.7" cy="1154.7" r="7.9" fill="url(#Dg)"/>
<circle cx="1095.3" cy="1151.6" r="7.9" fill="url(#Dg)"/>
<circle cx="1121.9" cy="1165.6" r="7.9" fill="url(#Dg)"/>
<circle cx="1142.2" cy="1166.4" r="7.9" fill="url(#Dg)"/>
<circle cx="1177.3" cy="1157.0" r="7.9" fill="url(#Dg)"/>
<circle cx="1187.5" cy="1153.1" r="7.9" fill="url(#Dg)"/>
<circle cx="1200.0" cy="1159.4" r="7.9" fill="url(#Dg)"/>
<circle cx="1213.3" cy="1170.3" r="7.9" fill="url(#Dg)"/>
<circle cx="1233.6" cy="1168.0" r="7.9" fill="url(#Dg)"/>
<circle cx="1125.0" cy="1189.1" r="7.9" fill="url(#Dg)"/>
<circle cx="1135.2" cy="1200.8" r="7.9" fill="url(#Dg)"/>
<circle cx="1153.1" cy="1201.6" r="7.9" fill="url(#Dg)"/>
<circle cx="1165.6" cy="1189.1" r="7.9" fill="url(#Dg)"/>
<circle cx="1175.0" cy="1182.8" r="7.9" fill="url(#Dg)"/>
<circle cx="1185.9" cy="1176.6" r="7.9" fill="url(#Dg)"/>
<circle cx="1190.6" cy="1189.1" r="7.9" fill="url(#Dg)"/>
<circle cx="1187.5" cy="1196.9" r="7.9" fill="url(#Dg)"/>
<circle cx="1196.9" cy="1200.0" r="7.9" fill="url(#Dg)"/>
<circle cx="1206.2" cy="1203.1" r="7.9" fill="url(#Dg)"/>
<circle cx="1203.1" cy="1209.4" r="7.9" fill="url(#Dg)"/>
<circle cx="1223.4" cy="1203.1" r="7.9" fill="url(#Dg)"/>
<circle cx="1231.2" cy="1207.8" r="7.9" fill="url(#Dg)"/>
<circle cx="1157.8" cy="1209.4" r="7.9" fill="url(#Dg)"/>
<circle cx="1167.2" cy="1201.6" r="7.9" fill="url(#Dg)"/>
<circle cx="1074.2" cy="1207.0" r="7.9" fill="url(#Dg)"/>
<circle cx="1131.2" cy="1218.8" r="7.9" fill="url(#Dg)"/>
<circle cx="1125.0" cy="1234.4" r="7.9" fill="url(#Dg)"/>
<circle cx="1156.2" cy="1231.2" r="7.9" fill="url(#Dg)"/>
<circle cx="1175.0" cy="1218.8" r="7.9" fill="url(#Dg)"/>
<circle cx="1184.4" cy="1223.4" r="7.9" fill="url(#Dg)"/>
<circle cx="1193.8" cy="1225.0" r="7.9" fill="url(#Dg)"/>
<circle cx="1206.2" cy="1226.6" r="7.9" fill="url(#Dg)"/>
<circle cx="1175.0" cy="1231.2" r="7.9" fill="url(#Dg)"/>
<circle cx="1187.5" cy="1234.4" r="7.9" fill="url(#Dg)"/>
<circle cx="1200.0" cy="1237.5" r="7.9" fill="url(#Dg)"/>
<circle cx="1215.6" cy="1234.4" r="7.9" fill="url(#Dg)"/>
<circle cx="1231.2" cy="1240.6" r="7.9" fill="url(#Dg)"/>
<circle cx="1243.8" cy="1228.1" r="7.9" fill="url(#Dg)"/>
<circle cx="1218.8" cy="1243.8" r="7.9" fill="url(#Dg)"/>
<circle cx="1142.2" cy="1251.6" r="7.9" fill="url(#Dg)"/>
<circle cx="1165.6" cy="1246.9" r="7.9" fill="url(#Dg)"/>
<circle cx="1178.1" cy="1250.0" r="7.9" fill="url(#Dg)"/>
<circle cx="1190.6" cy="1245.3" r="7.9" fill="url(#Dg)"/>
<circle cx="1200.0" cy="1251.6" r="7.9" fill="url(#Dg)"/>
<circle cx="1187.5" cy="1259.4" r="7.9" fill="url(#Dg)"/>
<circle cx="1200.0" cy="1262.5" r="7.9" fill="url(#Dg)"/>
<circle cx="1175.0" cy="1267.2" r="7.9" fill="url(#Dg)"/>
<circle cx="1187.5" cy="1271.9" r="7.9" fill="url(#Dg)"/>
<circle cx="1200.0" cy="1273.4" r="7.9" fill="url(#Dg)"/>
<circle cx="1212.5" cy="1275.0" r="7.9" fill="url(#Dg)"/>
<circle cx="1228.1" cy="1271.9" r="7.9" fill="url(#Dg)"/>
<circle cx="1131.2" cy="1268.8" r="7.9" fill="url(#Dg)"/>
<circle cx="1143.8" cy="1270.3" r="7.9" fill="url(#Dg)"/>
<circle cx="1159.4" cy="1273.4" r="7.9" fill="url(#Dg)"/>
<circle cx="1168.8" cy="1282.8" r="7.9" fill="url(#Dg)"/>
<circle cx="1140.6" cy="1284.4" r="7.9" fill="url(#Dg)"/>
<circle cx="1159.4" cy="1292.2" r="7.9" fill="url(#Dg)"/>
<circle cx="1175.0" cy="1285.9" r="7.9" fill="url(#Dg)"/>
<circle cx="1190.6" cy="1285.9" r="7.9" fill="url(#Dg)"/>
<circle cx="1203.1" cy="1285.9" r="7.9" fill="url(#Dg)"/>
<circle cx="1215.6" cy="1287.5" r="7.9" fill="url(#Dg)"/>
<circle cx="1221.9" cy="1290.6" r="7.9" fill="url(#Dg)"/>
<circle cx="1184.4" cy="1300.0" r="7.9" fill="url(#Dg)"/>
<circle cx="1196.9" cy="1298.4" r="7.9" fill="url(#Dg)"/>
<circle cx="1209.4" cy="1300.0" r="7.9" fill="url(#Dg)"/>
<circle cx="1218.8" cy="1293.8" r="7.9" fill="url(#Dg)"/>
<circle cx="1181.2" cy="1306.2" r="7.9" fill="url(#Dg)"/>
<circle cx="1193.8" cy="1309.4" r="7.9" fill="url(#Dg)"/>
<circle cx="1206.2" cy="1310.9" r="7.9" fill="url(#Dg)"/>
<circle cx="1214.1" cy="1315.6" r="7.9" fill="url(#Dg)"/>
<circle cx="1234.4" cy="1312.5" r="7.9" fill="url(#Dg)"/>
<circle cx="1237.5" cy="1321.9" r="7.9" fill="url(#Dg)"/>
<circle cx="1178.1" cy="1317.2" r="7.9" fill="url(#Dg)"/>
<circle cx="1250.0" cy="1293.8" r="7.9" fill="url(#Dg)"/>
<circle cx="1260.9" cy="1309.4" r="7.9" fill="url(#Dg)"/>
<circle cx="1198.4" cy="1331.2" r="7.9" fill="url(#Dg)"/>
<circle cx="1212.5" cy="1334.4" r="7.9" fill="url(#Dg)"/>
<circle cx="1225.0" cy="1329.7" r="7.9" fill="url(#Dg)"/>
<circle cx="1237.5" cy="1337.5" r="7.9" fill="url(#Dg)"/>
<circle cx="1239.1" cy="1350.0" r="7.9" fill="url(#Dg)"/>
<circle cx="1228.1" cy="1337.5" r="7.9" fill="url(#Dg)"/>
<circle cx="1176.6" cy="1362.5" r="7.9" fill="url(#Dg)"/>
<circle cx="1200.0" cy="1362.5" r="7.9" fill="url(#Dg)"/>
<circle cx="1217.2" cy="1356.2" r="7.9" fill="url(#Dg)"/>
<circle cx="1217.2" cy="1368.8" r="7.9" fill="url(#Dg)"/>
<circle cx="1221.9" cy="1375.0" r="7.9" fill="url(#Dg)"/>
<circle cx="1254.7" cy="1365.6" r="7.9" fill="url(#Dg)"/>
<circle cx="1243.8" cy="1381.2" r="7.9" fill="url(#Dg)"/>
<circle cx="1256.2" cy="1385.9" r="7.9" fill="url(#Dg)"/>
<circle cx="1223.4" cy="1390.6" r="7.9" fill="url(#Dg)"/>
<circle cx="1185.9" cy="1392.2" r="7.9" fill="url(#Dg)"/>
<circle cx="1237.5" cy="1401.6" r="7.9" fill="url(#Dg)"/>
<circle cx="1232.8" cy="1428.1" r="7.9" fill="url(#Dg)"/>
<circle cx="972.9" cy="947.9" r="7.9" fill="url(#Dl)"/>
<circle cx="965.6" cy="956.2" r="7.9" fill="url(#Dl)"/>
<circle cx="1025.0" cy="925.0" r="7.9" fill="url(#Dl)"/>
<circle cx="1054.2" cy="935.4" r="7.9" fill="url(#Dl)"/>
<circle cx="1054.2" cy="950.0" r="7.9" fill="url(#Dl)"/>
<circle cx="1039.6" cy="962.5" r="7.9" fill="url(#Dl)"/>
<circle cx="1025.0" cy="964.6" r="7.9" fill="url(#Dl)"/>
<circle cx="1006.2" cy="972.9" r="7.9" fill="url(#Dl)"/>
<circle cx="1079.2" cy="958.3" r="7.9" fill="url(#Dl)"/>
<circle cx="1095.8" cy="956.2" r="7.9" fill="url(#Dl)"/>
<circle cx="1112.5" cy="956.2" r="7.9" fill="url(#Dl)"/>
<circle cx="1129.2" cy="956.2" r="7.9" fill="url(#Dl)"/>
<circle cx="1145.8" cy="958.3" r="7.9" fill="url(#Dl)"/>
<circle cx="1062.5" cy="977.1" r="7.9" fill="url(#Dl)"/>
<circle cx="1079.2" cy="975.0" r="7.9" fill="url(#Dl)"/>
<circle cx="1095.8" cy="972.9" r="7.9" fill="url(#Dl)"/>
<circle cx="1112.5" cy="968.8" r="7.9" fill="url(#Dl)"/>
<circle cx="1129.2" cy="968.8" r="7.9" fill="url(#Dl)"/>
<circle cx="1147.9" cy="972.9" r="7.9" fill="url(#Dl)"/>
<circle cx="1066.7" cy="991.7" r="7.9" fill="url(#Dl)"/>
<circle cx="1095.8" cy="991.7" r="7.9" fill="url(#Dl)"/>
<circle cx="1108.3" cy="983.3" r="7.9" fill="url(#Dl)"/>
<circle cx="1137.5" cy="983.3" r="7.9" fill="url(#Dl)"/>
<circle cx="1152.1" cy="987.5" r="7.9" fill="url(#Dl)"/>
<circle cx="1083.3" cy="1010.4" r="7.9" fill="url(#Dl)"/>
<circle cx="1100.0" cy="1008.3" r="7.9" fill="url(#Dl)"/>
<circle cx="1116.7" cy="1004.2" r="7.9" fill="url(#Dl)"/>
<circle cx="1133.3" cy="1004.2" r="7.9" fill="url(#Dl)"/>
<circle cx="1150.0" cy="1004.2" r="7.9" fill="url(#Dl)"/>
<circle cx="1166.7" cy="1016.7" r="7.9" fill="url(#Dl)"/>
<circle cx="1102.1" cy="1022.9" r="7.9" fill="url(#Dl)"/>
<circle cx="1131.2" cy="1022.9" r="7.9" fill="url(#Dl)"/>
<circle cx="1147.9" cy="1025.0" r="7.9" fill="url(#Dl)"/>
<circle cx="1164.6" cy="1029.2" r="7.9" fill="url(#Dl)"/>
<circle cx="1116.7" cy="1037.5" r="7.9" fill="url(#Dl)"/>
<circle cx="1137.5" cy="1039.6" r="7.9" fill="url(#Dl)"/>
<circle cx="1158.3" cy="1043.8" r="7.9" fill="url(#Dl)"/>
<circle cx="1185.4" cy="1033.3" r="7.9" fill="url(#Dl)"/>
<circle cx="1191.7" cy="1045.8" r="7.9" fill="url(#Dl)"/>
<circle cx="954.2" cy="1033.3" r="7.9" fill="url(#Dl)"/>
<circle cx="1075.0" cy="983.3" r="7.9" fill="url(#Dl)"/>
<circle cx="1087.5" cy="981.2" r="7.9" fill="url(#Dl)"/>
<circle cx="1125.0" cy="979.2" r="7.9" fill="url(#Dl)"/>
<circle cx="1120.8" cy="993.8" r="7.9" fill="url(#Dl)"/>
<circle cx="1108.3" cy="1000.0" r="7.9" fill="url(#Dl)"/>
<circle cx="1087.5" cy="1002.1" r="7.9" fill="url(#Dl)"/>
<circle cx="1125.0" cy="1016.7" r="7.9" fill="url(#Dl)"/>
<circle cx="1091.7" cy="1025.0" r="7.9" fill="url(#Dl)"/>
<circle cx="1084.4" cy="1012.5" r="7.9" fill="url(#Dl)"/>
<circle cx="1101.6" cy="1014.1" r="7.9" fill="url(#Dl)"/>
<circle cx="1121.9" cy="1012.5" r="7.9" fill="url(#Dl)"/>
<circle cx="1137.5" cy="1009.4" r="7.9" fill="url(#Dl)"/>
<circle cx="1154.7" cy="1010.9" r="7.9" fill="url(#Dl)"/>
<circle cx="1168.8" cy="1014.1" r="7.9" fill="url(#Dl)"/>
<circle cx="1087.5" cy="1020.3" r="7.9" fill="url(#Dl)"/>
<circle cx="1109.4" cy="1031.2" r="7.9" fill="url(#Dl)"/>
<circle cx="1125.0" cy="1031.2" r="7.9" fill="url(#Dl)"/>
<circle cx="1143.8" cy="1029.7" r="7.9" fill="url(#Dl)"/>
<circle cx="1165.6" cy="1032.8" r="7.9" fill="url(#Dl)"/>
<circle cx="1185.9" cy="1034.4" r="7.9" fill="url(#Dl)"/>
<circle cx="1134.4" cy="1043.8" r="7.9" fill="url(#Dl)"/>
<circle cx="1146.9" cy="1042.2" r="7.9" fill="url(#Dl)"/>
<circle cx="1189.1" cy="1050.0" r="7.9" fill="url(#Dl)"/>
<circle cx="1140.6" cy="1062.5" r="7.9" fill="url(#Dl)"/>
<circle cx="1164.1" cy="1065.6" r="7.9" fill="url(#Dl)"/>
<circle cx="1134.4" cy="1075.0" r="7.9" fill="url(#Dl)"/>
<circle cx="1178.1" cy="1079.7" r="7.9" fill="url(#Dl)"/>
<circle cx="1112.5" cy="1110.2" r="7.9" fill="url(#Dl)"/>
<circle cx="1170.3" cy="1100.0" r="7.9" fill="url(#Dl)"/>
<circle cx="1184.4" cy="1107.8" r="7.9" fill="url(#Dl)"/>
<circle cx="1160.9" cy="1118.8" r="7.9" fill="url(#Dl)"/>
<circle cx="1171.9" cy="1117.2" r="7.9" fill="url(#Dl)"/>
<circle cx="1189.1" cy="1131.2" r="7.9" fill="url(#Dl)"/>
<circle cx="1212.5" cy="1127.3" r="7.9" fill="url(#Dl)"/>
<circle cx="1096.9" cy="1006.2" r="7.9" fill="url(#Dl)"/>
<circle cx="1112.5" cy="1004.7" r="7.9" fill="url(#Dl)"/>
<circle cx="1131.2" cy="1020.3" r="7.9" fill="url(#Dl)"/>
<circle cx="1153.1" cy="1021.9" r="7.9" fill="url(#Dl)"/>
<circle cx="1118.8" cy="1021.9" r="7.9" fill="url(#Dl)"/>
<circle cx="971.9" cy="948.4" r="7.9" fill="url(#Dl)"/>
<circle cx="965.6" cy="956.2" r="7.9" fill="url(#Dl)"/>
<circle cx="1007.0" cy="972.7" r="7.9" fill="url(#Dl)"/>
<circle cx="1025.0" cy="926.6" r="7.9" fill="url(#Dl)"/>
<circle cx="1023.4" cy="964.1" r="7.9" fill="url(#Dl)"/>
<circle cx="1039.1" cy="962.5" r="7.9" fill="url(#Dl)"/>
<circle cx="950.8" cy="1034.4" r="7.9" fill="url(#Dl)"/>
<circle cx="1047.9" cy="835.4" r="7.9" fill="url(#Dy)"/>
<circle cx="1054.2" cy="836.5" r="7.9" fill="url(#Dy)"/>
<circle cx="1018.8" cy="850.0" r="7.9" fill="url(#Dy)"/>
<circle cx="1039.6" cy="849.0" r="7.9" fill="url(#Dy)"/>
<circle cx="1087.5" cy="849.0" r="7.9" fill="url(#Dy)"/>
<circle cx="1104.2" cy="857.3" r="7.9" fill="url(#Dy)"/>
<circle cx="1000.0" cy="867.7" r="7.9" fill="url(#Dy)"/>
<circle cx="1033.3" cy="860.4" r="7.9" fill="url(#Dy)"/>
<circle cx="1022.9" cy="874.0" r="7.9" fill="url(#Dy)"/>
<circle cx="1041.7" cy="872.9" r="7.9" fill="url(#Dy)"/>
<circle cx="1066.7" cy="871.9" r="7.9" fill="url(#Dy)"/>
<circle cx="1091.7" cy="866.7" r="7.9" fill="url(#Dy)"/>
<circle cx="1079.2" cy="879.2" r="7.9" fill="url(#Dy)"/>
<circle cx="1178.1" cy="881.2" r="7.9" fill="url(#Dy)"/>
<circle cx="980.2" cy="900.0" r="7.9" fill="url(#Dy)"/>
<circle cx="1010.4" cy="891.7" r="7.9" fill="url(#Dy)"/>
<circle cx="1025.0" cy="899.0" r="7.9" fill="url(#Dy)"/>
<circle cx="1050.0" cy="889.6" r="7.9" fill="url(#Dy)"/>
<circle cx="1062.5" cy="887.5" r="7.9" fill="url(#Dy)"/>
<circle cx="1075.0" cy="891.7" r="7.9" fill="url(#Dy)"/>
<circle cx="1095.8" cy="889.6" r="7.9" fill="url(#Dy)"/>
<circle cx="1110.4" cy="887.5" r="7.9" fill="url(#Dy)"/>
<circle cx="987.5" cy="913.5" r="7.9" fill="url(#Dy)"/>
<circle cx="1006.2" cy="907.3" r="7.9" fill="url(#Dy)"/>
<circle cx="1027.1" cy="912.5" r="7.9" fill="url(#Dy)"/>
<circle cx="1045.8" cy="906.2" r="7.9" fill="url(#Dy)"/>
<circle cx="1058.3" cy="902.1" r="7.9" fill="url(#Dy)"/>
<circle cx="1066.7" cy="910.4" r="7.9" fill="url(#Dy)"/>
<circle cx="1083.3" cy="906.2" r="7.9" fill="url(#Dy)"/>
<circle cx="1100.0" cy="904.2" r="7.9" fill="url(#Dy)"/>
<circle cx="1122.9" cy="906.2" r="7.9" fill="url(#Dy)"/>
<circle cx="1138.5" cy="904.2" r="7.9" fill="url(#Dy)"/>
<circle cx="1158.3" cy="908.3" r="7.9" fill="url(#Dy)"/>
<circle cx="1000.0" cy="927.1" r="7.9" fill="url(#Dy)"/>
<circle cx="1039.6" cy="925.0" r="7.9" fill="url(#Dy)"/>
<circle cx="1054.2" cy="920.8" r="7.9" fill="url(#Dy)"/>
<circle cx="1070.8" cy="920.8" r="7.9" fill="url(#Dy)"/>
<circle cx="1087.5" cy="920.8" r="7.9" fill="url(#Dy)"/>
<circle cx="1104.2" cy="918.8" r="7.9" fill="url(#Dy)"/>
<circle cx="1122.9" cy="916.7" r="7.9" fill="url(#Dy)"/>
<circle cx="1141.7" cy="922.9" r="7.9" fill="url(#Dy)"/>
<circle cx="1083.3" cy="931.2" r="7.9" fill="url(#Dy)"/>
<circle cx="1100.0" cy="933.3" r="7.9" fill="url(#Dy)"/>
<circle cx="1114.6" cy="931.2" r="7.9" fill="url(#Dy)"/>
<circle cx="1127.1" cy="935.4" r="7.9" fill="url(#Dy)"/>
<circle cx="1139.6" cy="933.3" r="7.9" fill="url(#Dy)"/>
<circle cx="1077.1" cy="945.8" r="7.9" fill="url(#Dy)"/>
<circle cx="1091.7" cy="945.8" r="7.9" fill="url(#Dy)"/>
<circle cx="1108.3" cy="945.8" r="7.9" fill="url(#Dy)"/>
<circle cx="1122.9" cy="950.0" r="7.9" fill="url(#Dy)"/>
<circle cx="1141.7" cy="943.8" r="7.9" fill="url(#Dy)"/>
<circle cx="950.0" cy="952.1" r="7.9" fill="url(#Dy)"/>
<circle cx="1020.8" cy="947.9" r="7.9" fill="url(#Dy)"/>
<circle cx="1016.7" cy="958.3" r="7.9" fill="url(#Dy)"/>
<circle cx="1068.8" cy="964.6" r="7.9" fill="url(#Dy)"/>
<circle cx="1133.3" cy="983.3" r="7.9" fill="url(#Dy)"/>
<circle cx="1120.8" cy="991.7" r="7.9" fill="url(#Dy)"/>
<circle cx="1085.4" cy="995.8" r="7.9" fill="url(#Dy)"/>
<circle cx="1058.3" cy="895.8" r="7.9" fill="url(#Dy)"/>
<circle cx="1075.0" cy="900.0" r="7.9" fill="url(#Dy)"/>
<circle cx="1091.7" cy="900.0" r="7.9" fill="url(#Dy)"/>
<circle cx="1108.3" cy="897.9" r="7.9" fill="url(#Dy)"/>
<circle cx="1066.7" cy="927.1" r="7.9" fill="url(#Dy)"/>
<circle cx="1095.8" cy="910.4" r="7.9" fill="url(#Dy)"/>
<circle cx="1050.0" cy="912.5" r="7.9" fill="url(#Dy)"/>
<circle cx="928.1" cy="909.4" r="7.9" fill="url(#Dy)"/>
<circle cx="979.7" cy="900.0" r="7.9" fill="url(#Dy)"/>
<circle cx="987.5" cy="914.1" r="7.9" fill="url(#Dy)"/>
<circle cx="1000.0" cy="926.6" r="7.9" fill="url(#Dy)"/>
<circle cx="1009.4" cy="893.8" r="7.9" fill="url(#Dy)"/>
<circle cx="1007.0" cy="907.8" r="7.9" fill="url(#Dy)"/>
<circle cx="1025.0" cy="900.0" r="7.9" fill="url(#Dy)"/>
<circle cx="1026.6" cy="915.6" r="7.9" fill="url(#Dy)"/>
<circle cx="1000.0" cy="867.2" r="7.9" fill="url(#Dy)"/>
<circle cx="1017.2" cy="850.0" r="7.9" fill="url(#Dy)"/>
<circle cx="1021.9" cy="873.4" r="7.9" fill="url(#Dy)"/>
<circle cx="1031.2" cy="860.9" r="7.9" fill="url(#Dy)"/>
<circle cx="1039.1" cy="850.0" r="7.9" fill="url(#Dy)"/>
<circle cx="1045.3" cy="835.9" r="7.9" fill="url(#Dy)"/>
<circle cx="1040.6" cy="873.4" r="7.9" fill="url(#Dy)"/>
<circle cx="951.6" cy="952.3" r="7.9" fill="url(#Dy)"/>
<circle cx="1021.9" cy="946.9" r="7.9" fill="url(#Dy)"/>
<circle cx="1018.8" cy="956.2" r="7.9" fill="url(#Dy)"/>
<circle cx="1039.1" cy="926.6" r="7.9" fill="url(#Dy)"/>
<circle cx="977.1" cy="685.4" r="7.9" fill="url(#Do)"/>
<circle cx="995.8" cy="677.1" r="7.9" fill="url(#Do)"/>
<circle cx="943.8" cy="700.0" r="7.9" fill="url(#Do)"/>
<circle cx="952.1" cy="709.4" r="7.9" fill="url(#Do)"/>
<circle cx="962.5" cy="704.2" r="7.9" fill="url(#Do)"/>
<circle cx="970.8" cy="697.9" r="7.9" fill="url(#Do)"/>
<circle cx="987.5" cy="704.2" r="7.9" fill="url(#Do)"/>
<circle cx="995.8" cy="712.5" r="7.9" fill="url(#Do)"/>
<circle cx="975.0" cy="714.6" r="7.9" fill="url(#Do)"/>
<circle cx="981.2" cy="727.1" r="7.9" fill="url(#Do)"/>
<circle cx="970.8" cy="735.4" r="7.9" fill="url(#Do)"/>
<circle cx="995.8" cy="735.4" r="7.9" fill="url(#Do)"/>
<circle cx="935.4" cy="740.6" r="7.9" fill="url(#Do)"/>
<circle cx="950.0" cy="738.5" r="7.9" fill="url(#Do)"/>
<circle cx="945.8" cy="752.1" r="7.9" fill="url(#Do)"/>
<circle cx="958.3" cy="762.5" r="7.9" fill="url(#Do)"/>
<circle cx="981.2" cy="754.2" r="7.9" fill="url(#Do)"/>
<circle cx="991.7" cy="758.3" r="7.9" fill="url(#Do)"/>
<circle cx="952.1" cy="772.9" r="7.9" fill="url(#Do)"/>
<circle cx="964.6" cy="775.0" r="7.9" fill="url(#Do)"/>
<circle cx="975.0" cy="766.7" r="7.9" fill="url(#Do)"/>
<circle cx="983.3" cy="779.2" r="7.9" fill="url(#Do)"/>
<circle cx="941.7" cy="800.0" r="7.9" fill="url(#Do)"/>
<circle cx="995.8" cy="795.8" r="7.9" fill="url(#Do)"/>
<circle cx="970.8" cy="810.4" r="7.9" fill="url(#Do)"/>
<circle cx="966.7" cy="818.8" r="7.9" fill="url(#Do)"/>
<circle cx="924.0" cy="822.9" r="7.9" fill="url(#Do)"/>
<circle cx="937.5" cy="833.3" r="7.9" fill="url(#Do)"/>
<circle cx="985.4" cy="831.2" r="7.9" fill="url(#Do)"/>
<circle cx="995.8" cy="833.3" r="7.9" fill="url(#Do)"/>
<circle cx="918.8" cy="845.8" r="7.9" fill="url(#Do)"/>
<circle cx="952.1" cy="845.8" r="7.9" fill="url(#Do)"/>
<circle cx="997.9" cy="678.1" r="7.9" fill="url(#Do)"/>
<circle cx="976.0" cy="685.4" r="7.9" fill="url(#Do)"/>
<circle cx="1024.0" cy="686.5" r="7.9" fill="url(#Do)"/>
<circle cx="1089.6" cy="692.7" r="7.9" fill="url(#Do)"/>
<circle cx="1022.9" cy="694.8" r="7.9" fill="url(#Do)"/>
<circle cx="970.8" cy="700.0" r="7.9" fill="url(#Do)"/>
<circle cx="991.7" cy="702.1" r="7.9" fill="url(#Do)"/>
<circle cx="1005.2" cy="702.1" r="7.9" fill="url(#Do)"/>
<circle cx="958.3" cy="706.2" r="7.9" fill="url(#Do)"/>
<circle cx="950.0" cy="710.4" r="7.9" fill="url(#Do)"/>
<circle cx="1028.1" cy="705.2" r="7.9" fill="url(#Do)"/>
<circle cx="981.2" cy="712.5" r="7.9" fill="url(#Do)"/>
<circle cx="975.0" cy="716.7" r="7.9" fill="url(#Do)"/>
<circle cx="1047.9" cy="716.7" r="7.9" fill="url(#Do)"/>
<circle cx="1029.2" cy="722.9" r="7.9" fill="url(#Do)"/>
<circle cx="1041.7" cy="722.9" r="7.9" fill="url(#Do)"/>
<circle cx="970.8" cy="733.3" r="7.9" fill="url(#Do)"/>
<circle cx="997.9" cy="735.4" r="7.9" fill="url(#Do)"/>
<circle cx="952.1" cy="737.5" r="7.9" fill="url(#Do)"/>
<circle cx="981.2" cy="741.7" r="7.9" fill="url(#Do)"/>
<circle cx="1027.1" cy="731.2" r="7.9" fill="url(#Do)"/>
<circle cx="1044.8" cy="746.9" r="7.9" fill="url(#Do)"/>
<circle cx="1072.9" cy="749.0" r="7.9" fill="url(#Do)"/>
<circle cx="1078.1" cy="754.2" r="7.9" fill="url(#Do)"/>
<circle cx="987.5" cy="750.0" r="7.9" fill="url(#Do)"/>
<circle cx="993.8" cy="756.2" r="7.9" fill="url(#Do)"/>
<circle cx="1025.0" cy="756.2" r="7.9" fill="url(#Do)"/>
<circle cx="1029.2" cy="762.5" r="7.9" fill="url(#Do)"/>
<circle cx="1060.4" cy="759.4" r="7.9" fill="url(#Do)"/>
<circle cx="1018.8" cy="766.7" r="7.9" fill="url(#Do)"/>
<circle cx="962.5" cy="762.5" r="7.9" fill="url(#Do)"/>
<circle cx="979.2" cy="768.8" r="7.9" fill="url(#Do)"/>
<circle cx="958.3" cy="772.9" r="7.9" fill="url(#Do)"/>
<circle cx="970.8" cy="777.1" r="7.9" fill="url(#Do)"/>
<circle cx="981.2" cy="780.2" r="7.9" fill="url(#Do)"/>
<circle cx="1035.4" cy="782.3" r="7.9" fill="url(#Do)"/>
<circle cx="1000.0" cy="796.9" r="7.9" fill="url(#Do)"/>
<circle cx="1021.9" cy="804.2" r="7.9" fill="url(#Do)"/>
<circle cx="1058.3" cy="804.2" r="7.9" fill="url(#Do)"/>
<circle cx="1068.8" cy="808.3" r="7.9" fill="url(#Do)"/>
<circle cx="1075.0" cy="814.6" r="7.9" fill="url(#Do)"/>
<circle cx="970.8" cy="812.5" r="7.9" fill="url(#Do)"/>
<circle cx="964.6" cy="818.8" r="7.9" fill="url(#Do)"/>
<circle cx="1022.9" cy="820.8" r="7.9" fill="url(#Do)"/>
<circle cx="1064.6" cy="820.8" r="7.9" fill="url(#Do)"/>
<circle cx="983.3" cy="831.2" r="7.9" fill="url(#Do)"/>
<circle cx="997.9" cy="833.3" r="7.9" fill="url(#Do)"/>
<circle cx="1006.2" cy="839.6" r="7.9" fill="url(#Do)"/>
<circle cx="1087.5" cy="832.3" r="7.9" fill="url(#Do)"/>
<circle cx="950.0" cy="844.8" r="7.9" fill="url(#Do)"/>
<circle cx="979.2" cy="860.4" r="7.9" fill="url(#Do)"/>
<circle cx="997.9" cy="854.2" r="7.9" fill="url(#Do)"/>
<circle cx="818.0" cy="861.7" r="7.9" fill="url(#Do)"/>
<circle cx="923.4" cy="823.4" r="7.9" fill="url(#Do)"/>
<circle cx="936.7" cy="833.6" r="7.9" fill="url(#Do)"/>
<circle cx="951.6" cy="845.3" r="7.9" fill="url(#Do)"/>
<circle cx="918.8" cy="850.8" r="7.9" fill="url(#Do)"/>
<circle cx="968.8" cy="815.6" r="7.9" fill="url(#Do)"/>
<circle cx="965.6" cy="818.8" r="7.9" fill="url(#Do)"/>
<circle cx="984.4" cy="832.8" r="7.9" fill="url(#Do)"/>
<circle cx="995.3" cy="833.6" r="7.9" fill="url(#Do)"/>
<circle cx="1004.7" cy="839.1" r="7.9" fill="url(#Do)"/>
<circle cx="1000.0" cy="853.9" r="7.9" fill="url(#Do)"/>
<circle cx="978.9" cy="860.2" r="7.9" fill="url(#Do)"/>
<circle cx="943.0" cy="802.3" r="7.9" fill="url(#Do)"/>
<circle cx="1023.4" cy="820.3" r="7.9" fill="url(#Do)"/>
<circle cx="1021.9" cy="806.2" r="7.9" fill="url(#Do)"/>
<circle cx="1000.0" cy="801.6" r="7.9" fill="url(#Do)"/>
<circle cx="998.3" cy="678.4" r="7.9" fill="url(#Do)"/>
<circle cx="976.8" cy="684.9" r="7.9" fill="url(#Do)"/>
<circle cx="1023.7" cy="686.2" r="7.9" fill="url(#Do)"/>
<circle cx="1025.0" cy="694.0" r="7.9" fill="url(#Do)"/>
<circle cx="1090.1" cy="693.4" r="7.9" fill="url(#Do)"/>
<circle cx="941.7" cy="701.8" r="7.9" fill="url(#Do)"/>
<circle cx="954.7" cy="704.4" r="7.9" fill="url(#Do)"/>
<circle cx="970.3" cy="700.5" r="7.9" fill="url(#Do)"/>
<circle cx="991.1" cy="703.1" r="7.9" fill="url(#Do)"/>
<circle cx="1006.8" cy="703.1" r="7.9" fill="url(#Do)"/>
<circle cx="1027.6" cy="705.7" r="7.9" fill="url(#Do)"/>
<circle cx="949.5" cy="712.2" r="7.9" fill="url(#Do)"/>
<circle cx="978.1" cy="713.5" r="7.9" fill="url(#Do)"/>
<circle cx="988.5" cy="717.4" r="7.9" fill="url(#Do)"/>
<circle cx="1047.1" cy="716.1" r="7.9" fill="url(#Do)"/>
<circle cx="1030.2" cy="722.7" r="7.9" fill="url(#Do)"/>
<circle cx="1040.6" cy="726.6" r="7.9" fill="url(#Do)"/>
<circle cx="1027.6" cy="734.4" r="7.9" fill="url(#Do)"/>
<circle cx="975.5" cy="724.0" r="7.9" fill="url(#Do)"/>
<circle cx="970.3" cy="734.4" r="7.9" fill="url(#Do)"/>
<circle cx="997.7" cy="735.7" r="7.9" fill="url(#Do)"/>
<circle cx="935.2" cy="739.6" r="7.9" fill="url(#Do)"/>
<circle cx="949.5" cy="738.3" r="7.9" fill="url(#Do)"/>
<circle cx="980.7" cy="742.2" r="7.9" fill="url(#Do)"/>
<circle cx="1044.5" cy="746.1" r="7.9" fill="url(#Do)"/>
<circle cx="1071.9" cy="747.4" r="7.9" fill="url(#Do)"/>
<circle cx="807.3" cy="488.5" r="7.9" fill="url(#Dr)"/>
<circle cx="857.3" cy="500.0" r="7.9" fill="url(#Dr)"/>
<circle cx="856.7" cy="518.3" r="7.9" fill="url(#Dr)"/>
<circle cx="905.2" cy="505.8" r="7.9" fill="url(#Dr)"/>
<circle cx="891.7" cy="530.2" r="7.9" fill="url(#Dr)"/>
<circle cx="904.2" cy="543.3" r="7.9" fill="url(#Dr)"/>
<circle cx="922.9" cy="556.2" r="7.9" fill="url(#Dr)"/>
<circle cx="914.6" cy="563.5" r="7.9" fill="url(#Dr)"/>
<circle cx="911.5" cy="572.9" r="7.9" fill="url(#Dr)"/>
<circle cx="878.1" cy="563.5" r="7.9" fill="url(#Dr)"/>
<circle cx="855.2" cy="570.8" r="7.9" fill="url(#Dr)"/>
<circle cx="862.5" cy="574.0" r="7.9" fill="url(#Dr)"/>
<circle cx="815.6" cy="577.5" r="7.9" fill="url(#Dr)"/>
<circle cx="830.2" cy="581.2" r="7.9" fill="url(#Dr)"/>
<circle cx="781.2" cy="595.8" r="7.9" fill="url(#Dr)"/>
<circle cx="794.8" cy="595.8" r="7.9" fill="url(#Dr)"/>
<circle cx="884.4" cy="585.0" r="7.9" fill="url(#Dr)"/>
<circle cx="918.8" cy="580.8" r="7.9" fill="url(#Dr)"/>
<circle cx="921.9" cy="593.8" r="7.9" fill="url(#Dr)"/>
<circle cx="854.2" cy="603.8" r="7.9" fill="url(#Dr)"/>
<circle cx="869.8" cy="595.8" r="7.9" fill="url(#Dr)"/>
<circle cx="877.1" cy="605.2" r="7.9" fill="url(#Dr)"/>
<circle cx="905.2" cy="604.2" r="7.9" fill="url(#Dr)"/>
<circle cx="946.9" cy="601.0" r="7.9" fill="url(#Dr)"/>
<circle cx="928.1" cy="608.3" r="7.9" fill="url(#Dr)"/>
<circle cx="929.2" cy="616.7" r="7.9" fill="url(#Dr)"/>
<circle cx="975.0" cy="576.0" r="7.9" fill="url(#Dr)"/>
<circle cx="964.6" cy="585.4" r="7.9" fill="url(#Dr)"/>
<circle cx="983.3" cy="614.6" r="7.9" fill="url(#Dr)"/>
<circle cx="892.7" cy="616.7" r="7.9" fill="url(#Dr)"/>
<circle cx="901.0" cy="620.8" r="7.9" fill="url(#Dr)"/>
<circle cx="888.5" cy="625.0" r="7.9" fill="url(#Dr)"/>
<circle cx="875.0" cy="629.2" r="7.9" fill="url(#Dr)"/>
<circle cx="870.8" cy="637.5" r="7.9" fill="url(#Dr)"/>
<circle cx="903.1" cy="631.2" r="7.9" fill="url(#Dr)"/>
<circle cx="903.1" cy="638.5" r="7.9" fill="url(#Dr)"/>
<circle cx="952.1" cy="630.2" r="7.9" fill="url(#Dr)"/>
<circle cx="924.0" cy="642.7" r="7.9" fill="url(#Dr)"/>
<circle cx="921.9" cy="655.2" r="7.9" fill="url(#Dr)"/>
<circle cx="996.9" cy="646.9" r="7.9" fill="url(#Dr)"/>
<circle cx="977.1" cy="655.2" r="7.9" fill="url(#Dr)"/>
<circle cx="945.8" cy="655.2" r="7.9" fill="url(#Dr)"/>
<circle cx="954.2" cy="662.5" r="7.9" fill="url(#Dr)"/>
<circle cx="956.2" cy="675.0" r="7.9" fill="url(#Dr)"/>
<circle cx="941.7" cy="674.0" r="7.9" fill="url(#Dr)"/>
<circle cx="900.0" cy="668.8" r="7.9" fill="url(#Dr)"/>
<circle cx="908.3" cy="667.7" r="7.9" fill="url(#Dr)"/>
<circle cx="892.7" cy="684.4" r="7.9" fill="url(#Dr)"/>
<circle cx="926.0" cy="686.5" r="7.9" fill="url(#Dr)"/>
<circle cx="943.8" cy="689.6" r="7.9" fill="url(#Dr)"/>
<circle cx="916.7" cy="700.0" r="7.9" fill="url(#Dr)"/>
<circle cx="807.9" cy="655.2" r="7.9" fill="url(#Dr)"/>
<circle cx="843.8" cy="706.7" r="7.9" fill="url(#Dr)"/>
<circle cx="869.8" cy="731.2" r="7.9" fill="url(#Dr)"/>
<circle cx="720.8" cy="786.5" r="7.9" fill="url(#Dr)"/>
<circle cx="905.9" cy="505.9" r="7.9" fill="url(#Dr)"/>
<circle cx="904.6" cy="543.0" r="7.9" fill="url(#Dr)"/>
<circle cx="924.1" cy="556.0" r="7.9" fill="url(#Dr)"/>
<circle cx="915.6" cy="562.5" r="7.9" fill="url(#Dr)"/>
<circle cx="911.7" cy="570.3" r="7.9" fill="url(#Dr)"/>
<circle cx="910.4" cy="576.8" r="7.9" fill="url(#Dr)"/>
<circle cx="919.5" cy="580.7" r="7.9" fill="url(#Dr)"/>
<circle cx="922.1" cy="593.8" r="7.9" fill="url(#Dr)"/>
<circle cx="927.3" cy="608.1" r="7.9" fill="url(#Dr)"/>
<circle cx="928.6" cy="615.9" r="7.9" fill="url(#Dr)"/>
<circle cx="905.2" cy="604.2" r="7.9" fill="url(#Dr)"/>
<circle cx="946.9" cy="601.6" r="7.9" fill="url(#Dr)"/>
<circle cx="974.2" cy="575.5" r="7.9" fill="url(#Dr)"/>
<circle cx="964.5" cy="585.9" r="7.9" fill="url(#Dr)"/>
<circle cx="983.3" cy="614.6" r="7.9" fill="url(#Dr)"/>
<circle cx="952.1" cy="630.2" r="7.9" fill="url(#Dr)"/>
<circle cx="903.9" cy="621.1" r="7.9" fill="url(#Dr)"/>
<circle cx="903.9" cy="638.0" r="7.9" fill="url(#Dr)"/>
<circle cx="924.1" cy="644.5" r="7.9" fill="url(#Dr)"/>
<circle cx="920.8" cy="656.2" r="7.9" fill="url(#Dr)"/>
<circle cx="945.6" cy="654.9" r="7.9" fill="url(#Dr)"/>
<circle cx="956.0" cy="664.1" r="7.9" fill="url(#Dr)"/>
<circle cx="943.0" cy="674.5" r="7.9" fill="url(#Dr)"/>
<circle cx="957.3" cy="678.4" r="7.9" fill="url(#Dr)"/>
<circle cx="905.2" cy="666.7" r="7.9" fill="url(#Dr)"/>
<circle cx="926.0" cy="686.2" r="7.9" fill="url(#Dr)"/>
<circle cx="944.3" cy="690.1" r="7.9" fill="url(#Dr)"/>
<circle cx="916.3" cy="700.5" r="7.9" fill="url(#Dr)"/>
<circle cx="977.5" cy="655.6" r="7.9" fill="url(#Dr)"/>
<circle cx="997.0" cy="647.8" r="7.9" fill="url(#Dr)"/>
<line x1="2271.5" y1="1233.8" x2="3113.6" y2="1537.2" stroke="#000" stroke-width="3"/>
<text x="2694" y="1382.7" font-size="50" fill="#444">f</text>
<circle cx="2749.6" cy="727.1" r="7.6" fill="url(#Dr)"/>
<circle cx="2674.0" cy="952.7" r="7.6" fill="url(#Dr)"/>
<circle cx="2696.9" cy="1020.8" r="7.6" fill="url(#Dr)"/>
<circle cx="2759.4" cy="1028.1" r="7.6" fill="url(#Dr)"/>
<circle cx="2688.5" cy="1100.0" r="7.6" fill="url(#Dr)"/>
<circle cx="2689.1" cy="1104.7" r="7.6" fill="url(#Dr)"/>
<circle cx="2722.7" cy="1121.9" r="7.6" fill="url(#Dr)"/>
<circle cx="2677.3" cy="1239.8" r="7.6" fill="url(#Dr)"/>
<circle cx="2722.7" cy="1265.6" r="7.6" fill="url(#Dr)"/>
<circle cx="2734.4" cy="1264.1" r="7.6" fill="url(#Dr)"/>
<circle cx="2736.7" cy="1297.7" r="7.6" fill="url(#Dr)"/>
<circle cx="2761.7" cy="1302.3" r="7.6" fill="url(#Dr)"/>
<circle cx="2791.4" cy="1318.8" r="7.6" fill="url(#Dr)"/>
<circle cx="2727.3" cy="1329.7" r="7.6" fill="url(#Dr)"/>
<circle cx="2814.1" cy="1337.5" r="7.6" fill="url(#Dr)"/>
<circle cx="2550.0" cy="1329.7" r="7.6" fill="url(#Dr)"/>
<circle cx="2543.8" cy="1328.4" r="7.6" fill="url(#Dr)"/>
<circle cx="2664.1" cy="1369.8" r="7.6" fill="url(#Dr)"/>
<circle cx="2674.2" cy="1408.9" r="7.6" fill="url(#Dr)"/>
<circle cx="2616.4" cy="1417.5" r="7.6" fill="url(#Dr)"/>
<circle cx="2650.8" cy="1433.1" r="7.6" fill="url(#Dr)"/>
<circle cx="2628.9" cy="1442.5" r="7.6" fill="url(#Dr)"/>
<circle cx="2628.1" cy="1471.4" r="7.6" fill="url(#Dr)"/>
<circle cx="2602.3" cy="1483.9" r="7.6" fill="url(#Dr)"/>
<circle cx="2635.9" cy="1490.2" r="7.6" fill="url(#Dr)"/>
<circle cx="2676.6" cy="1516.7" r="7.6" fill="url(#Dr)"/>
<circle cx="2681.2" cy="1486.2" r="7.6" fill="url(#Dr)"/>
<circle cx="2689.1" cy="1476.9" r="7.6" fill="url(#Dr)"/>
<circle cx="2696.9" cy="1459.7" r="7.6" fill="url(#Dr)"/>
<circle cx="2692.2" cy="1503.4" r="7.6" fill="url(#Dr)"/>
<circle cx="2696.9" cy="1508.1" r="7.6" fill="url(#Dr)"/>
<circle cx="2721.9" cy="1267.0" r="7.6" fill="url(#Dr)"/>
<circle cx="2734.3" cy="1265.4" r="7.6" fill="url(#Dr)"/>
<circle cx="2736.7" cy="1297.3" r="7.6" fill="url(#Dr)"/>
<circle cx="2761.5" cy="1301.9" r="7.6" fill="url(#Dr)"/>
<circle cx="2791.0" cy="1318.2" r="7.6" fill="url(#Dr)"/>
<circle cx="2727.4" cy="1329.9" r="7.6" fill="url(#Dr)"/>
<circle cx="2813.5" cy="1337.6" r="7.6" fill="url(#Dr)"/>
<circle cx="2711.1" cy="1367.1" r="7.6" fill="url(#Dr)"/>
<circle cx="2795.7" cy="1375.7" r="7.6" fill="url(#Dr)"/>
<circle cx="2735.1" cy="1388.1" r="7.6" fill="url(#Dr)"/>
<circle cx="2721.1" cy="1402.1" r="7.6" fill="url(#Dr)"/>
<circle cx="2744.4" cy="1404.4" r="7.6" fill="url(#Dr)"/>
<circle cx="2713.4" cy="1419.9" r="7.6" fill="url(#Dr)"/>
<circle cx="2763.9" cy="1422.3" r="7.6" fill="url(#Dr)"/>
<circle cx="2762.3" cy="1438.6" r="7.6" fill="url(#Dr)"/>
<circle cx="2724.3" cy="1444.0" r="7.6" fill="url(#Dr)"/>
<circle cx="2698.6" cy="1461.9" r="7.6" fill="url(#Dr)"/>
<circle cx="2725.0" cy="1461.9" r="7.6" fill="url(#Dr)"/>
<circle cx="2740.6" cy="1457.2" r="7.6" fill="url(#Dr)"/>
<circle cx="2742.1" cy="1469.6" r="7.6" fill="url(#Dr)"/>
<circle cx="2770.1" cy="1462.6" r="7.6" fill="url(#Dr)"/>
<circle cx="2780.9" cy="1466.5" r="7.6" fill="url(#Dr)"/>
<circle cx="2687.8" cy="1475.8" r="7.6" fill="url(#Dr)"/>
<circle cx="2711.1" cy="1483.6" r="7.6" fill="url(#Dr)"/>
<circle cx="2723.5" cy="1486.7" r="7.6" fill="url(#Dr)"/>
<circle cx="2734.3" cy="1480.5" r="7.6" fill="url(#Dr)"/>
<circle cx="2743.7" cy="1477.4" r="7.6" fill="url(#Dr)"/>
<circle cx="2681.6" cy="1483.6" r="7.6" fill="url(#Dr)"/>
<circle cx="2695.5" cy="1500.7" r="7.6" fill="url(#Dr)"/>
<circle cx="2712.6" cy="1496.0" r="7.6" fill="url(#Dr)"/>
<circle cx="2773.2" cy="1485.2" r="7.6" fill="url(#Dr)"/>
<circle cx="2801.1" cy="1494.5" r="7.6" fill="url(#Dr)"/>
<circle cx="2740.6" cy="1520.9" r="7.6" fill="url(#Dr)"/>
<circle cx="2680.0" cy="1409.1" r="7.6" fill="url(#Dr)"/>
<circle cx="2681.6" cy="1516.2" r="7.6" fill="url(#Dr)"/>
<circle cx="2700.2" cy="1489.8" r="7.6" fill="url(#Dr)"/>
<circle cx="2689.3" cy="1496.0" r="7.6" fill="url(#Dr)"/>
<circle cx="2729.7" cy="1474.3" r="7.6" fill="url(#Dr)"/>
<circle cx="2718.8" cy="1474.3" r="7.6" fill="url(#Dr)"/>
<circle cx="2810.4" cy="963.5" r="7.6" fill="url(#Do)"/>
<circle cx="2820.8" cy="980.2" r="7.6" fill="url(#Do)"/>
<circle cx="2786.5" cy="1087.5" r="7.6" fill="url(#Do)"/>
<circle cx="2859.4" cy="1096.9" r="7.6" fill="url(#Do)"/>
<circle cx="2785.9" cy="1087.5" r="7.6" fill="url(#Do)"/>
<circle cx="2803.9" cy="1155.5" r="7.6" fill="url(#Do)"/>
<circle cx="2792.2" cy="1166.4" r="7.6" fill="url(#Do)"/>
<circle cx="2798.4" cy="1182.8" r="7.6" fill="url(#Do)"/>
<circle cx="2839.1" cy="1186.7" r="7.6" fill="url(#Do)"/>
<circle cx="2840.6" cy="1201.6" r="7.6" fill="url(#Do)"/>
<circle cx="2848.4" cy="1175.0" r="7.6" fill="url(#Do)"/>
<circle cx="2766.4" cy="1204.7" r="7.6" fill="url(#Do)"/>
<circle cx="2787.5" cy="1227.3" r="7.6" fill="url(#Do)"/>
<circle cx="2817.2" cy="1244.5" r="7.6" fill="url(#Do)"/>
<circle cx="2778.1" cy="1253.1" r="7.6" fill="url(#Do)"/>
<circle cx="2638.3" cy="1295.3" r="7.6" fill="url(#Do)"/>
<circle cx="2776.6" cy="1346.9" r="7.6" fill="url(#Do)"/>
<circle cx="2795.3" cy="1345.3" r="7.6" fill="url(#Do)"/>
<circle cx="2821.9" cy="1345.3" r="7.6" fill="url(#Do)"/>
<circle cx="2638.3" cy="1295.6" r="7.6" fill="url(#Do)"/>
<circle cx="2776.3" cy="1348.5" r="7.6" fill="url(#Do)"/>
<circle cx="2795.7" cy="1346.2" r="7.6" fill="url(#Do)"/>
<circle cx="2821.3" cy="1347.7" r="7.6" fill="url(#Do)"/>
<circle cx="2799.6" cy="1360.9" r="7.6" fill="url(#Do)"/>
<circle cx="2786.4" cy="1372.6" r="7.6" fill="url(#Do)"/>
<circle cx="2740.6" cy="1364.0" r="7.6" fill="url(#Do)"/>
<circle cx="2737.5" cy="1372.6" r="7.6" fill="url(#Do)"/>
<circle cx="2753.0" cy="1378.0" r="7.6" fill="url(#Do)"/>
<circle cx="2760.7" cy="1384.2" r="7.6" fill="url(#Do)"/>
<circle cx="2759.2" cy="1395.1" r="7.6" fill="url(#Do)"/>
<circle cx="2754.5" cy="1402.9" r="7.6" fill="url(#Do)"/>
<circle cx="2770.1" cy="1405.2" r="7.6" fill="url(#Do)"/>
<circle cx="2796.5" cy="1388.9" r="7.6" fill="url(#Do)"/>
<circle cx="2872.5" cy="1365.6" r="7.6" fill="url(#Do)"/>
<circle cx="2853.9" cy="1362.5" r="7.6" fill="url(#Do)"/>
<circle cx="2891.2" cy="1354.7" r="7.6" fill="url(#Do)"/>
<circle cx="2860.9" cy="1407.5" r="7.6" fill="url(#Do)"/>
<circle cx="2900.5" cy="1399.8" r="7.6" fill="url(#Do)"/>
<circle cx="2801.1" cy="1425.4" r="7.6" fill="url(#Do)"/>
<circle cx="2841.5" cy="1427.7" r="7.6" fill="url(#Do)"/>
<circle cx="2759.2" cy="1434.7" r="7.6" fill="url(#Do)"/>
<circle cx="2779.4" cy="1438.6" r="7.6" fill="url(#Do)"/>
<circle cx="2791.8" cy="1438.6" r="7.6" fill="url(#Do)"/>
<circle cx="2804.2" cy="1435.5" r="7.6" fill="url(#Do)"/>
<circle cx="2815.1" cy="1438.6" r="7.6" fill="url(#Do)"/>
<circle cx="2782.5" cy="1451.0" r="7.6" fill="url(#Do)"/>
<circle cx="2810.4" cy="1451.0" r="7.6" fill="url(#Do)"/>
<circle cx="2815.1" cy="1461.9" r="7.6" fill="url(#Do)"/>
<circle cx="2794.9" cy="1471.2" r="7.6" fill="url(#Do)"/>
<circle cx="2813.5" cy="1477.4" r="7.6" fill="url(#Do)"/>
<circle cx="2816.6" cy="1486.7" r="7.6" fill="url(#Do)"/>
<circle cx="2843.0" cy="1451.0" r="7.6" fill="url(#Do)"/>
<circle cx="2841.5" cy="1465.0" r="7.6" fill="url(#Do)"/>
<circle cx="2841.5" cy="1477.4" r="7.6" fill="url(#Do)"/>
<circle cx="2864.8" cy="1447.9" r="7.6" fill="url(#Do)"/>
<circle cx="2881.9" cy="1440.1" r="7.6" fill="url(#Do)"/>
<circle cx="2889.6" cy="1455.7" r="7.6" fill="url(#Do)"/>
<circle cx="2900.5" cy="1468.1" r="7.6" fill="url(#Do)"/>
<circle cx="2762.3" cy="1486.7" r="7.6" fill="url(#Do)"/>
<circle cx="2765.4" cy="1506.9" r="7.6" fill="url(#Do)"/>
<circle cx="2798.0" cy="1508.4" r="7.6" fill="url(#Do)"/>
<circle cx="2838.4" cy="1492.9" r="7.6" fill="url(#Do)"/>
<circle cx="2838.4" cy="1511.6" r="7.6" fill="url(#Do)"/>
<circle cx="2866.3" cy="1500.7" r="7.6" fill="url(#Do)"/>
<circle cx="2877.2" cy="1508.4" r="7.6" fill="url(#Do)"/>
<circle cx="2788.7" cy="1458.8" r="7.6" fill="url(#Do)"/>
<circle cx="2801.1" cy="1454.1" r="7.6" fill="url(#Do)"/>
<circle cx="2804.2" cy="1480.5" r="7.6" fill="url(#Do)"/>
<circle cx="2791.8" cy="1483.6" r="7.6" fill="url(#Do)"/>
<circle cx="2829.1" cy="1440.1" r="7.6" fill="url(#Do)"/>
<circle cx="2903.3" cy="1402.3" r="7.6" fill="url(#Do)"/>
<circle cx="2905.0" cy="1466.8" r="7.6" fill="url(#Do)"/>
<circle cx="2786.7" cy="1087.3" r="7.6" fill="url(#Do)"/>
<circle cx="2860.1" cy="1100.1" r="7.6" fill="url(#Do)"/>
<circle cx="2804.2" cy="1155.3" r="7.6" fill="url(#Do)"/>
<circle cx="2792.1" cy="1166.0" r="7.6" fill="url(#Do)"/>
<circle cx="2798.2" cy="1182.9" r="7.6" fill="url(#Do)"/>
<circle cx="2852.0" cy="1174.8" r="7.6" fill="url(#Do)"/>
<circle cx="2879.6" cy="1168.0" r="7.6" fill="url(#Do)"/>
<circle cx="2837.9" cy="1186.9" r="7.6" fill="url(#Do)"/>
<circle cx="2839.9" cy="1201.7" r="7.6" fill="url(#Do)"/>
<circle cx="2787.4" cy="1227.9" r="7.6" fill="url(#Do)"/>
<circle cx="2817.0" cy="1244.8" r="7.6" fill="url(#Do)"/>
<circle cx="2781.3" cy="1254.2" r="7.6" fill="url(#Do)"/>
<circle cx="2883.3" cy="844.8" r="7.6" fill="url(#Dy)"/>
<circle cx="2824.0" cy="911.5" r="7.6" fill="url(#Dy)"/>
<circle cx="2897.5" cy="1021.9" r="7.6" fill="url(#Dy)"/>
<circle cx="2900.0" cy="1058.3" r="7.6" fill="url(#Dy)"/>
<circle cx="2746.1" cy="1243.0" r="7.6" fill="url(#Dy)"/>
<circle cx="2804.7" cy="1318.8" r="7.6" fill="url(#Dy)"/>
<circle cx="2898.9" cy="1268.5" r="7.6" fill="url(#Dy)"/>
<circle cx="2888.1" cy="1285.6" r="7.6" fill="url(#Dy)"/>
<circle cx="2895.8" cy="1284.1" r="7.6" fill="url(#Dy)"/>
<circle cx="2885.7" cy="1300.4" r="7.6" fill="url(#Dy)"/>
<circle cx="2909.8" cy="1298.8" r="7.6" fill="url(#Dy)"/>
<circle cx="2945.5" cy="1288.7" r="7.6" fill="url(#Dy)"/>
<circle cx="2936.2" cy="1298.0" r="7.6" fill="url(#Dy)"/>
<circle cx="2804.2" cy="1319.8" r="7.6" fill="url(#Dy)"/>
<circle cx="2909.8" cy="1320.6" r="7.6" fill="url(#Dy)"/>
<circle cx="2888.1" cy="1332.2" r="7.6" fill="url(#Dy)"/>
<circle cx="2906.7" cy="1338.4" r="7.6" fill="url(#Dy)"/>
<circle cx="2920.7" cy="1346.2" r="7.6" fill="url(#Dy)"/>
<circle cx="2872.5" cy="1346.2" r="7.6" fill="url(#Dy)"/>
<circle cx="2900.5" cy="1349.3" r="7.6" fill="url(#Dy)"/>
<circle cx="2888.1" cy="1353.2" r="7.6" fill="url(#Dy)"/>
<circle cx="2852.4" cy="1356.3" r="7.6" fill="url(#Dy)"/>
<circle cx="2920.7" cy="1359.4" r="7.6" fill="url(#Dy)"/>
<circle cx="2916.0" cy="1368.7" r="7.6" fill="url(#Dy)"/>
<circle cx="2836.8" cy="1373.4" r="7.6" fill="url(#Dy)"/>
<circle cx="2857.0" cy="1382.7" r="7.6" fill="url(#Dy)"/>
<circle cx="2835.3" cy="1384.2" r="7.6" fill="url(#Dy)"/>
<circle cx="2889.6" cy="1388.1" r="7.6" fill="url(#Dy)"/>
<circle cx="2905.2" cy="1378.0" r="7.6" fill="url(#Dy)"/>
<circle cx="2839.9" cy="1397.4" r="7.6" fill="url(#Dy)"/>
<circle cx="2951.7" cy="1381.1" r="7.6" fill="url(#Dy)"/>
<circle cx="2903.6" cy="1406.0" r="7.6" fill="url(#Dy)"/>
<circle cx="2916.0" cy="1399.8" r="7.6" fill="url(#Dy)"/>
<circle cx="2928.4" cy="1407.5" r="7.6" fill="url(#Dy)"/>
<circle cx="2905.2" cy="1416.8" r="7.6" fill="url(#Dy)"/>
<circle cx="2916.0" cy="1418.4" r="7.6" fill="url(#Dy)"/>
<circle cx="2816.6" cy="1419.9" r="7.6" fill="url(#Dy)"/>
<circle cx="2833.7" cy="1423.0" r="7.6" fill="url(#Dy)"/>
<circle cx="2954.8" cy="1429.3" r="7.6" fill="url(#Dy)"/>
<circle cx="2770.1" cy="1451.0" r="7.6" fill="url(#Dy)"/>
<circle cx="2850.8" cy="1457.2" r="7.6" fill="url(#Dy)"/>
<circle cx="2863.2" cy="1461.9" r="7.6" fill="url(#Dy)"/>
<circle cx="2892.7" cy="1443.2" r="7.6" fill="url(#Dy)"/>
<circle cx="2897.4" cy="1447.9" r="7.6" fill="url(#Dy)"/>
<circle cx="2916.0" cy="1447.9" r="7.6" fill="url(#Dy)"/>
<circle cx="2934.7" cy="1446.3" r="7.6" fill="url(#Dy)"/>
<circle cx="2850.8" cy="1477.4" r="7.6" fill="url(#Dy)"/>
<circle cx="2858.6" cy="1489.8" r="7.6" fill="url(#Dy)"/>
<circle cx="2874.1" cy="1486.7" r="7.6" fill="url(#Dy)"/>
<circle cx="2894.3" cy="1480.5" r="7.6" fill="url(#Dy)"/>
<circle cx="2909.8" cy="1482.0" r="7.6" fill="url(#Dy)"/>
<circle cx="2801.1" cy="1502.2" r="7.6" fill="url(#Dy)"/>
<circle cx="2827.5" cy="1508.4" r="7.6" fill="url(#Dy)"/>
<circle cx="2843.0" cy="1503.8" r="7.6" fill="url(#Dy)"/>
<circle cx="2912.9" cy="1503.8" r="7.6" fill="url(#Dy)"/>
<circle cx="2947.1" cy="1471.2" r="7.6" fill="url(#Dy)"/>
<circle cx="2866.3" cy="1474.3" r="7.6" fill="url(#Dy)"/>
<circle cx="2881.9" cy="1492.9" r="7.6" fill="url(#Dy)"/>
<circle cx="2850.8" cy="1496.0" r="7.6" fill="url(#Dy)"/>
<circle cx="2901.7" cy="1269.8" r="7.6" fill="url(#Dy)"/>
<circle cx="2909.9" cy="1298.8" r="7.6" fill="url(#Dy)"/>
<circle cx="2946.4" cy="1288.0" r="7.6" fill="url(#Dy)"/>
<circle cx="2936.4" cy="1296.3" r="7.6" fill="url(#Dy)"/>
<circle cx="2909.9" cy="1321.1" r="7.6" fill="url(#Dy)"/>
<circle cx="2906.6" cy="1337.7" r="7.6" fill="url(#Dy)"/>
<circle cx="2919.9" cy="1346.0" r="7.6" fill="url(#Dy)"/>
<circle cx="2903.3" cy="1349.3" r="7.6" fill="url(#Dy)"/>
<circle cx="2924.8" cy="1359.2" r="7.6" fill="url(#Dy)"/>
<circle cx="2916.6" cy="1369.1" r="7.6" fill="url(#Dy)"/>
<circle cx="2905.0" cy="1377.4" r="7.6" fill="url(#Dy)"/>
<circle cx="2953.0" cy="1377.4" r="7.6" fill="url(#Dy)"/>
<circle cx="2953.0" cy="1385.7" r="7.6" fill="url(#Dy)"/>
<circle cx="2923.2" cy="1400.6" r="7.6" fill="url(#Dy)"/>
<circle cx="2929.8" cy="1407.2" r="7.6" fill="url(#Dy)"/>
<circle cx="2909.9" cy="1405.6" r="7.6" fill="url(#Dy)"/>
<circle cx="2916.6" cy="1415.5" r="7.6" fill="url(#Dy)"/>
<circle cx="2905.0" cy="1418.8" r="7.6" fill="url(#Dy)"/>
<circle cx="2971.2" cy="1407.2" r="7.6" fill="url(#Dy)"/>
<circle cx="2953.0" cy="1430.4" r="7.6" fill="url(#Dy)"/>
<circle cx="2989.4" cy="1427.1" r="7.6" fill="url(#Dy)"/>
<circle cx="2921.5" cy="1443.6" r="7.6" fill="url(#Dy)"/>
<circle cx="2941.4" cy="1445.3" r="7.6" fill="url(#Dy)"/>
<circle cx="2924.8" cy="1453.6" r="7.6" fill="url(#Dy)"/>
<circle cx="2938.1" cy="1451.9" r="7.6" fill="url(#Dy)"/>
<circle cx="2948.0" cy="1475.1" r="7.6" fill="url(#Dy)"/>
<circle cx="2914.9" cy="1503.2" r="7.6" fill="url(#Dy)"/>
<circle cx="2936.4" cy="1499.9" r="7.6" fill="url(#Dy)"/>
<circle cx="2897.8" cy="1022.7" r="7.6" fill="url(#Dy)"/>
<circle cx="2899.8" cy="1060.4" r="7.6" fill="url(#Dy)"/>
<circle cx="2934.8" cy="1132.4" r="7.6" fill="url(#Dy)"/>
<circle cx="2905.8" cy="1153.2" r="7.6" fill="url(#Dy)"/>
<circle cx="2864.1" cy="1158.0" r="7.6" fill="url(#Dy)"/>
<circle cx="2899.1" cy="1269.0" r="7.6" fill="url(#Dy)"/>
<circle cx="2916.0" cy="1299.6" r="7.6" fill="url(#Dl)"/>
<circle cx="2928.4" cy="1360.9" r="7.6" fill="url(#Dl)"/>
<circle cx="2917.6" cy="1387.3" r="7.6" fill="url(#Dl)"/>
<circle cx="2880.3" cy="1403.6" r="7.6" fill="url(#Dl)"/>
<circle cx="2934.7" cy="1429.3" r="7.6" fill="url(#Dl)"/>
<circle cx="2838.4" cy="1454.1" r="7.6" fill="url(#Dl)"/>
<circle cx="2878.8" cy="1463.4" r="7.6" fill="url(#Dl)"/>
<circle cx="2905.2" cy="1457.2" r="7.6" fill="url(#Dl)"/>
<circle cx="2922.2" cy="1463.4" r="7.6" fill="url(#Dl)"/>
<circle cx="2937.8" cy="1455.7" r="7.6" fill="url(#Dl)"/>
<circle cx="2948.6" cy="1458.8" r="7.6" fill="url(#Dl)"/>
<circle cx="2925.3" cy="1475.8" r="7.6" fill="url(#Dl)"/>
<circle cx="2944.0" cy="1480.5" r="7.6" fill="url(#Dl)"/>
<circle cx="2958.0" cy="1477.4" r="7.6" fill="url(#Dl)"/>
<circle cx="2905.2" cy="1489.8" r="7.6" fill="url(#Dl)"/>
<circle cx="2922.2" cy="1488.3" r="7.6" fill="url(#Dl)"/>
<circle cx="2936.2" cy="1492.9" r="7.6" fill="url(#Dl)"/>
<circle cx="2953.3" cy="1496.0" r="7.6" fill="url(#Dl)"/>
<circle cx="2900.5" cy="1502.2" r="7.6" fill="url(#Dl)"/>
<circle cx="2928.4" cy="1505.3" r="7.6" fill="url(#Dl)"/>
<circle cx="2947.1" cy="1508.4" r="7.6" fill="url(#Dl)"/>
<circle cx="2770.1" cy="1503.8" r="7.6" fill="url(#Dl)"/>
<circle cx="2782.5" cy="1508.4" r="7.6" fill="url(#Dl)"/>
<circle cx="2788.7" cy="1524.0" r="7.6" fill="url(#Dl)"/>
<circle cx="2824.4" cy="1520.9" r="7.6" fill="url(#Dl)"/>
<circle cx="2841.5" cy="1534.8" r="7.6" fill="url(#Dl)"/>
<circle cx="2857.0" cy="1516.2" r="7.6" fill="url(#Dl)"/>
<circle cx="2867.9" cy="1524.0" r="7.6" fill="url(#Dl)"/>
<circle cx="2881.9" cy="1520.9" r="7.6" fill="url(#Dl)"/>
<circle cx="2897.4" cy="1520.9" r="7.6" fill="url(#Dl)"/>
<circle cx="2912.9" cy="1517.8" r="7.6" fill="url(#Dl)"/>
<circle cx="2928.4" cy="1514.7" r="7.6" fill="url(#Dl)"/>
<circle cx="2944.0" cy="1520.9" r="7.6" fill="url(#Dl)"/>
<circle cx="2959.5" cy="1516.2" r="7.6" fill="url(#Dl)"/>
<circle cx="2889.6" cy="1511.6" r="7.6" fill="url(#Dl)"/>
<circle cx="2912.9" cy="1530.2" r="7.6" fill="url(#Dl)"/>
<circle cx="2928.4" cy="1527.1" r="7.6" fill="url(#Dl)"/>
<circle cx="2900.5" cy="1533.3" r="7.6" fill="url(#Dl)"/>
<circle cx="2918.2" cy="1298.8" r="7.6" fill="url(#Dl)"/>
<circle cx="2928.1" cy="1360.9" r="7.6" fill="url(#Dl)"/>
<circle cx="2916.6" cy="1385.7" r="7.6" fill="url(#Dl)"/>
<circle cx="2997.7" cy="1384.0" r="7.6" fill="url(#Dl)"/>
<circle cx="2934.8" cy="1429.6" r="7.6" fill="url(#Dl)"/>
<circle cx="2962.9" cy="1432.1" r="7.6" fill="url(#Dl)"/>
<circle cx="2966.2" cy="1442.0" r="7.6" fill="url(#Dl)"/>
<circle cx="2982.8" cy="1437.0" r="7.6" fill="url(#Dl)"/>
<circle cx="2981.1" cy="1463.5" r="7.6" fill="url(#Dl)"/>
<circle cx="2992.7" cy="1463.5" r="7.6" fill="url(#Dl)"/>
<circle cx="3002.6" cy="1468.5" r="7.6" fill="url(#Dl)"/>
<circle cx="2981.1" cy="1483.4" r="7.6" fill="url(#Dl)"/>
<circle cx="2906.6" cy="1455.2" r="7.6" fill="url(#Dl)"/>
<circle cx="2909.9" cy="1471.8" r="7.6" fill="url(#Dl)"/>
<circle cx="2926.5" cy="1468.5" r="7.6" fill="url(#Dl)"/>
<circle cx="2939.7" cy="1466.8" r="7.6" fill="url(#Dl)"/>
<circle cx="2954.6" cy="1471.8" r="7.6" fill="url(#Dl)"/>
<circle cx="2962.9" cy="1476.8" r="7.6" fill="url(#Dl)"/>
<circle cx="2905.0" cy="1485.0" r="7.6" fill="url(#Dl)"/>
<circle cx="2919.9" cy="1488.3" r="7.6" fill="url(#Dl)"/>
<circle cx="2933.1" cy="1485.0" r="7.6" fill="url(#Dl)"/>
<circle cx="2946.4" cy="1488.3" r="7.6" fill="url(#Dl)"/>
<circle cx="2957.9" cy="1486.7" r="7.6" fill="url(#Dl)"/>
<circle cx="2909.9" cy="1501.6" r="7.6" fill="url(#Dl)"/>
<circle cx="2924.8" cy="1504.9" r="7.6" fill="url(#Dl)"/>
<circle cx="2943.0" cy="1504.9" r="7.6" fill="url(#Dl)"/>
<circle cx="2956.3" cy="1503.2" r="7.6" fill="url(#Dl)"/>
<circle cx="2966.2" cy="1504.9" r="7.6" fill="url(#Dl)"/>
<circle cx="2906.6" cy="1518.1" r="7.6" fill="url(#Dl)"/>
<circle cx="2921.5" cy="1521.5" r="7.6" fill="url(#Dl)"/>
<circle cx="2933.1" cy="1518.1" r="7.6" fill="url(#Dl)"/>
<circle cx="2949.7" cy="1518.1" r="7.6" fill="url(#Dl)"/>
<circle cx="2962.9" cy="1518.1" r="7.6" fill="url(#Dl)"/>
<circle cx="2976.2" cy="1514.8" r="7.6" fill="url(#Dl)"/>
<circle cx="2992.7" cy="1503.2" r="7.6" fill="url(#Dl)"/>
<circle cx="2453.1" cy="1547.2" r="7.6" fill="url(#Dg)"/>
<circle cx="2475.8" cy="1547.2" r="7.6" fill="url(#Dg)"/>
<circle cx="2494.5" cy="1544.1" r="7.6" fill="url(#Dg)"/>
<circle cx="2559.4" cy="1547.2" r="7.6" fill="url(#Dg)"/>
<circle cx="2779.4" cy="1527.1" r="7.6" fill="url(#Dg)"/>
<circle cx="2735.1" cy="1544.2" r="7.6" fill="url(#Dg)"/>
<circle cx="2826.0" cy="1545.7" r="7.6" fill="url(#Dg)"/>
<circle cx="2855.5" cy="1545.7" r="7.6" fill="url(#Dg)"/>
<circle cx="2864.8" cy="1542.6" r="7.6" fill="url(#Dg)"/>
<circle cx="2888.1" cy="1534.8" r="7.6" fill="url(#Dg)"/>
<circle cx="2889.6" cy="1547.3" r="7.6" fill="url(#Dg)"/>
<circle cx="2908.3" cy="1538.0" r="7.6" fill="url(#Dg)"/>
<circle cx="2909.8" cy="1548.8" r="7.6" fill="url(#Dg)"/>
<circle cx="2923.8" cy="1548.8" r="7.6" fill="url(#Dg)"/>
<circle cx="2936.2" cy="1542.6" r="7.6" fill="url(#Dg)"/>
<circle cx="2950.2" cy="1539.5" r="7.6" fill="url(#Dg)"/>
<circle cx="2953.3" cy="1548.8" r="7.6" fill="url(#Dg)"/>
<circle cx="2959.5" cy="1531.7" r="7.6" fill="url(#Dg)"/>
<circle cx="2877.2" cy="1547.3" r="7.6" fill="url(#Dg)"/>
<circle cx="2900.5" cy="1544.2" r="7.6" fill="url(#Dg)"/>
<circle cx="2931.6" cy="1536.4" r="7.6" fill="url(#Dg)"/>
<circle cx="2997.7" cy="1442.0" r="7.6" fill="url(#Dg)"/>
<circle cx="2997.7" cy="1471.8" r="7.6" fill="url(#Dg)"/>
<circle cx="3043.2" cy="1468.5" r="7.6" fill="url(#Dg)"/>
<circle cx="3025.8" cy="1488.3" r="7.6" fill="url(#Dg)"/>
<circle cx="2996.0" cy="1496.6" r="7.6" fill="url(#Dg)"/>
<circle cx="3042.4" cy="1504.9" r="7.6" fill="url(#Dg)"/>
<circle cx="2976.2" cy="1518.1" r="7.6" fill="url(#Dg)"/>
<circle cx="2989.4" cy="1521.5" r="7.6" fill="url(#Dg)"/>
<circle cx="3002.6" cy="1524.8" r="7.6" fill="url(#Dg)"/>
<circle cx="3015.9" cy="1528.1" r="7.6" fill="url(#Dg)"/>
<circle cx="3029.1" cy="1523.1" r="7.6" fill="url(#Dg)"/>
<circle cx="3040.7" cy="1521.5" r="7.6" fill="url(#Dg)"/>
<circle cx="3052.3" cy="1526.4" r="7.6" fill="url(#Dg)"/>
<circle cx="3065.6" cy="1531.4" r="7.6" fill="url(#Dg)"/>
<circle cx="3073.8" cy="1536.4" r="7.6" fill="url(#Dg)"/>
<circle cx="2979.5" cy="1534.7" r="7.6" fill="url(#Dg)"/>
<circle cx="2992.7" cy="1538.0" r="7.6" fill="url(#Dg)"/>
<circle cx="3006.0" cy="1539.7" r="7.6" fill="url(#Dg)"/>
<circle cx="3019.2" cy="1538.0" r="7.6" fill="url(#Dg)"/>
<circle cx="3032.5" cy="1536.4" r="7.6" fill="url(#Dg)"/>
<circle cx="3045.7" cy="1538.0" r="7.6" fill="url(#Dg)"/>
<circle cx="3058.9" cy="1538.0" r="7.6" fill="url(#Dg)"/>
<circle cx="2905.0" cy="1534.7" r="7.6" fill="url(#Dg)"/>
<circle cx="2916.6" cy="1538.0" r="7.6" fill="url(#Dg)"/>
<circle cx="2929.8" cy="1538.0" r="7.6" fill="url(#Dg)"/>
<circle cx="2941.4" cy="1534.7" r="7.6" fill="url(#Dg)"/>
<circle cx="2954.6" cy="1533.0" r="7.6" fill="url(#Dg)"/>
<circle cx="2964.6" cy="1531.4" r="7.6" fill="url(#Dg)"/>
<circle cx="2900.0" cy="1528.1" r="7.6" fill="url(#Dg)"/>
<circle cx="2933.1" cy="1526.4" r="7.6" fill="url(#Dg)"/>
<circle cx="2948.0" cy="1524.8" r="7.6" fill="url(#Dg)"/>
<line x1="440" y1="3241.7" x2="1651.6" y2="2963" stroke="#000" stroke-width="3.8"/>
<circle cx="319.8" cy="3241.7" r="7.9" fill="url(#Dg)"/>
<circle cx="407.5" cy="3246.1" r="7.9" fill="url(#Dg)"/>
<circle cx="435.8" cy="3246.1" r="7.9" fill="url(#Dg)"/>
<circle cx="446.5" cy="3247.9" r="7.9" fill="url(#Dg)"/>
<circle cx="450.0" cy="3240.8" r="7.9" fill="url(#Dg)"/>
<circle cx="460.6" cy="3240.8" r="7.9" fill="url(#Dg)"/>
<circle cx="474.8" cy="3230.2" r="7.9" fill="url(#Dg)"/>
<circle cx="476.6" cy="3246.1" r="7.9" fill="url(#Dg)"/>
<circle cx="489.0" cy="3233.8" r="7.9" fill="url(#Dg)"/>
<circle cx="501.4" cy="3244.4" r="7.9" fill="url(#Dg)"/>
<circle cx="504.9" cy="3232.0" r="7.9" fill="url(#Dg)"/>
<circle cx="515.5" cy="3240.8" r="7.9" fill="url(#Dg)"/>
<circle cx="524.4" cy="3224.9" r="7.9" fill="url(#Dg)"/>
<circle cx="526.1" cy="3244.4" r="7.9" fill="url(#Dg)"/>
<circle cx="538.5" cy="3235.5" r="7.9" fill="url(#Dg)"/>
<circle cx="540.3" cy="3247.9" r="7.9" fill="url(#Dg)"/>
<circle cx="552.7" cy="3239.1" r="7.9" fill="url(#Dg)"/>
<circle cx="563.3" cy="3246.1" r="7.9" fill="url(#Dg)"/>
<circle cx="572.2" cy="3228.4" r="7.9" fill="url(#Dg)"/>
<circle cx="581.0" cy="3235.5" r="7.9" fill="url(#Dg)"/>
<circle cx="591.7" cy="3244.4" r="7.9" fill="url(#Dg)"/>
<circle cx="602.3" cy="3221.4" r="7.9" fill="url(#Dg)"/>
<circle cx="611.1" cy="3230.2" r="7.9" fill="url(#Dg)"/>
<circle cx="616.5" cy="3244.4" r="7.9" fill="url(#Dg)"/>
<circle cx="580.2" cy="3140.8" r="7.9" fill="url(#Dg)"/>
<circle cx="603.2" cy="3166.5" r="7.9" fill="url(#Dg)"/>
<circle cx="618.2" cy="3170.0" r="7.9" fill="url(#Dg)"/>
<circle cx="467.7" cy="3244.4" r="7.9" fill="url(#Dg)"/>
<circle cx="492.5" cy="3247.9" r="7.9" fill="url(#Dg)"/>
<circle cx="513.8" cy="3247.9" r="7.9" fill="url(#Dg)"/>
<circle cx="552.7" cy="3247.9" r="7.9" fill="url(#Dg)"/>
<circle cx="577.5" cy="3247.9" r="7.9" fill="url(#Dg)"/>
<circle cx="598.8" cy="3235.5" r="7.9" fill="url(#Dg)"/>
<circle cx="604.6" cy="3166.9" r="7.9" fill="url(#Dg)"/>
<circle cx="619.1" cy="3170.6" r="7.9" fill="url(#Dg)"/>
<circle cx="679.3" cy="3187.0" r="7.9" fill="url(#Dg)"/>
<circle cx="665.6" cy="3197.9" r="7.9" fill="url(#Dg)"/>
<circle cx="682.0" cy="3205.2" r="7.9" fill="url(#Dg)"/>
<circle cx="699.3" cy="3205.2" r="7.9" fill="url(#Dg)"/>
<circle cx="638.3" cy="3210.7" r="7.9" fill="url(#Dg)"/>
<circle cx="600.0" cy="3223.4" r="7.9" fill="url(#Dg)"/>
<circle cx="614.6" cy="3228.9" r="7.9" fill="url(#Dg)"/>
<circle cx="629.2" cy="3227.1" r="7.9" fill="url(#Dg)"/>
<circle cx="643.7" cy="3234.4" r="7.9" fill="url(#Dg)"/>
<circle cx="658.3" cy="3230.7" r="7.9" fill="url(#Dg)"/>
<circle cx="672.9" cy="3236.2" r="7.9" fill="url(#Dg)"/>
<circle cx="687.5" cy="3238.0" r="7.9" fill="url(#Dg)"/>
<circle cx="702.1" cy="3232.5" r="7.9" fill="url(#Dg)"/>
<circle cx="607.3" cy="3241.7" r="7.9" fill="url(#Dg)"/>
<circle cx="621.9" cy="3245.3" r="7.9" fill="url(#Dg)"/>
<circle cx="636.5" cy="3245.3" r="7.9" fill="url(#Dg)"/>
<circle cx="647.4" cy="3241.7" r="7.9" fill="url(#Dg)"/>
<circle cx="662.0" cy="3245.3" r="7.9" fill="url(#Dg)"/>
<circle cx="680.2" cy="3243.5" r="7.9" fill="url(#Dg)"/>
<circle cx="722.1" cy="3245.3" r="7.9" fill="url(#Dg)"/>
<circle cx="780.5" cy="3245.3" r="7.9" fill="url(#Dg)"/>
<circle cx="802.3" cy="3248.9" r="7.9" fill="url(#Dg)"/>
<circle cx="818.7" cy="3248.9" r="7.9" fill="url(#Dg)"/>
<circle cx="851.5" cy="3248.9" r="7.9" fill="url(#Dg)"/>
<circle cx="904.4" cy="3248.9" r="7.9" fill="url(#Dg)"/>
<circle cx="948.2" cy="3248.9" r="7.9" fill="url(#Dg)"/>
<circle cx="709.4" cy="3230.7" r="7.9" fill="url(#Dg)"/>
<circle cx="1020.3" cy="3228.2" r="7.9" fill="url(#Dg)"/>
<circle cx="953.4" cy="3247.8" r="7.9" fill="url(#Dg)"/>
<circle cx="1006.5" cy="3247.8" r="7.9" fill="url(#Dg)"/>
<circle cx="1142.3" cy="3247.8" r="7.9" fill="url(#Dg)"/>
<circle cx="1168.8" cy="3247.8" r="7.9" fill="url(#Dg)"/>
<circle cx="1253.1" cy="3247.8" r="7.9" fill="url(#Dg)"/>
<circle cx="1270.8" cy="3247.8" r="7.9" fill="url(#Dg)"/>
<circle cx="1303.3" cy="3243.9" r="7.9" fill="url(#Dg)"/>
<circle cx="819.7" cy="2993.7" r="7.9" fill="url(#Dl)"/>
<circle cx="853.4" cy="3057.5" r="7.9" fill="url(#Dl)"/>
<circle cx="823.3" cy="3081.2" r="7.9" fill="url(#Dl)"/>
<circle cx="849.7" cy="3084.0" r="7.9" fill="url(#Dl)"/>
<circle cx="880.7" cy="3100.4" r="7.9" fill="url(#Dl)"/>
<circle cx="887.1" cy="3126.8" r="7.9" fill="url(#Dl)"/>
<circle cx="844.3" cy="3128.6" r="7.9" fill="url(#Dl)"/>
<circle cx="846.1" cy="3139.6" r="7.9" fill="url(#Dl)"/>
<circle cx="752.2" cy="3162.4" r="7.9" fill="url(#Dl)"/>
<circle cx="775.9" cy="3164.2" r="7.9" fill="url(#Dl)"/>
<circle cx="806.0" cy="3168.7" r="7.9" fill="url(#Dl)"/>
<circle cx="790.5" cy="3181.5" r="7.9" fill="url(#Dl)"/>
<circle cx="822.4" cy="3185.1" r="7.9" fill="url(#Dl)"/>
<circle cx="840.6" cy="3181.5" r="7.9" fill="url(#Dl)"/>
<circle cx="855.2" cy="3176.0" r="7.9" fill="url(#Dl)"/>
<circle cx="866.1" cy="3150.5" r="7.9" fill="url(#Dl)"/>
<circle cx="878.9" cy="3161.4" r="7.9" fill="url(#Dl)"/>
<circle cx="891.7" cy="3157.8" r="7.9" fill="url(#Dl)"/>
<circle cx="900.8" cy="3150.5" r="7.9" fill="url(#Dl)"/>
<circle cx="900.8" cy="3172.4" r="7.9" fill="url(#Dl)"/>
<circle cx="869.8" cy="3187.0" r="7.9" fill="url(#Dl)"/>
<circle cx="884.4" cy="3187.0" r="7.9" fill="url(#Dl)"/>
<circle cx="898.9" cy="3190.6" r="7.9" fill="url(#Dl)"/>
<circle cx="720.3" cy="3202.5" r="7.9" fill="url(#Dl)"/>
<circle cx="716.7" cy="3219.8" r="7.9" fill="url(#Dl)"/>
<circle cx="745.8" cy="3219.8" r="7.9" fill="url(#Dl)"/>
<circle cx="734.9" cy="3228.9" r="7.9" fill="url(#Dl)"/>
<circle cx="727.6" cy="3238.0" r="7.9" fill="url(#Dl)"/>
<circle cx="744.0" cy="3238.0" r="7.9" fill="url(#Dl)"/>
<circle cx="771.3" cy="3214.3" r="7.9" fill="url(#Dl)"/>
<circle cx="787.8" cy="3212.5" r="7.9" fill="url(#Dl)"/>
<circle cx="807.8" cy="3201.5" r="7.9" fill="url(#Dl)"/>
<circle cx="826.0" cy="3203.4" r="7.9" fill="url(#Dl)"/>
<circle cx="842.4" cy="3201.5" r="7.9" fill="url(#Dl)"/>
<circle cx="858.8" cy="3201.5" r="7.9" fill="url(#Dl)"/>
<circle cx="875.2" cy="3201.5" r="7.9" fill="url(#Dl)"/>
<circle cx="891.7" cy="3205.2" r="7.9" fill="url(#Dl)"/>
<circle cx="908.1" cy="3201.5" r="7.9" fill="url(#Dl)"/>
<circle cx="775.0" cy="3225.2" r="7.9" fill="url(#Dl)"/>
<circle cx="800.5" cy="3227.1" r="7.9" fill="url(#Dl)"/>
<circle cx="818.7" cy="3219.8" r="7.9" fill="url(#Dl)"/>
<circle cx="835.1" cy="3223.4" r="7.9" fill="url(#Dl)"/>
<circle cx="851.5" cy="3221.6" r="7.9" fill="url(#Dl)"/>
<circle cx="868.0" cy="3218.0" r="7.9" fill="url(#Dl)"/>
<circle cx="884.4" cy="3223.4" r="7.9" fill="url(#Dl)"/>
<circle cx="900.8" cy="3219.8" r="7.9" fill="url(#Dl)"/>
<circle cx="915.3" cy="3216.1" r="7.9" fill="url(#Dl)"/>
<circle cx="922.6" cy="3234.4" r="7.9" fill="url(#Dl)"/>
<circle cx="937.2" cy="3227.1" r="7.9" fill="url(#Dl)"/>
<circle cx="837.0" cy="3238.0" r="7.9" fill="url(#Dl)"/>
<circle cx="855.2" cy="3238.0" r="7.9" fill="url(#Dl)"/>
<circle cx="873.4" cy="3234.4" r="7.9" fill="url(#Dl)"/>
<circle cx="891.7" cy="3230.7" r="7.9" fill="url(#Dl)"/>
<circle cx="919.0" cy="3243.5" r="7.9" fill="url(#Dl)"/>
<circle cx="851.5" cy="3190.6" r="7.9" fill="url(#Dl)"/>
<circle cx="866.1" cy="3168.7" r="7.9" fill="url(#Dl)"/>
<circle cx="880.7" cy="3176.0" r="7.9" fill="url(#Dl)"/>
<circle cx="826.0" cy="3232.5" r="7.9" fill="url(#Dl)"/>
<circle cx="909.9" cy="3228.9" r="7.9" fill="url(#Dl)"/>
<circle cx="925.9" cy="3222.3" r="7.9" fill="url(#Dl)"/>
<circle cx="939.7" cy="3234.1" r="7.9" fill="url(#Dl)"/>
<circle cx="920.0" cy="3238.0" r="7.9" fill="url(#Dl)"/>
<circle cx="939.3" cy="2527.6" r="7.9" fill="url(#Dy)"/>
<circle cx="957.6" cy="2595.8" r="7.9" fill="url(#Dy)"/>
<circle cx="989.6" cy="2709.1" r="7.9" fill="url(#Dy)"/>
<circle cx="863.8" cy="2746.9" r="7.9" fill="url(#Dy)"/>
<circle cx="941.9" cy="2749.5" r="7.9" fill="url(#Dy)"/>
<circle cx="871.6" cy="2823.7" r="7.9" fill="url(#Dy)"/>
<circle cx="982.3" cy="2845.8" r="7.9" fill="url(#Dy)"/>
<circle cx="983.6" cy="2851.0" r="7.9" fill="url(#Dy)"/>
<circle cx="954.9" cy="2935.7" r="7.9" fill="url(#Dy)"/>
<circle cx="925.4" cy="2963.7" r="7.9" fill="url(#Dy)"/>
<circle cx="878.0" cy="2982.8" r="7.9" fill="url(#Dy)"/>
<circle cx="911.7" cy="2979.2" r="7.9" fill="url(#Dy)"/>
<circle cx="898.9" cy="2994.7" r="7.9" fill="url(#Dy)"/>
<circle cx="909.9" cy="2991.0" r="7.9" fill="url(#Dy)"/>
<circle cx="928.1" cy="2992.8" r="7.9" fill="url(#Dy)"/>
<circle cx="946.3" cy="2979.2" r="7.9" fill="url(#Dy)"/>
<circle cx="932.7" cy="3016.5" r="7.9" fill="url(#Dy)"/>
<circle cx="948.2" cy="3013.8" r="7.9" fill="url(#Dy)"/>
<circle cx="891.7" cy="3049.3" r="7.9" fill="url(#Dy)"/>
<circle cx="908.1" cy="3045.7" r="7.9" fill="url(#Dy)"/>
<circle cx="915.3" cy="3041.1" r="7.9" fill="url(#Dy)"/>
<circle cx="922.6" cy="3057.5" r="7.9" fill="url(#Dy)"/>
<circle cx="937.2" cy="3053.9" r="7.9" fill="url(#Dy)"/>
<circle cx="898.9" cy="3080.3" r="7.9" fill="url(#Dy)"/>
<circle cx="918.1" cy="3072.1" r="7.9" fill="url(#Dy)"/>
<circle cx="937.2" cy="3078.5" r="7.9" fill="url(#Dy)"/>
<circle cx="913.5" cy="3094.0" r="7.9" fill="url(#Dy)"/>
<circle cx="928.1" cy="3090.4" r="7.9" fill="url(#Dy)"/>
<circle cx="915.3" cy="3106.8" r="7.9" fill="url(#Dy)"/>
<circle cx="937.2" cy="3097.6" r="7.9" fill="url(#Dy)"/>
<circle cx="946.3" cy="3106.8" r="7.9" fill="url(#Dy)"/>
<circle cx="909.9" cy="3122.3" r="7.9" fill="url(#Dy)"/>
<circle cx="937.2" cy="3119.5" r="7.9" fill="url(#Dy)"/>
<circle cx="939.0" cy="3130.5" r="7.9" fill="url(#Dy)"/>
<circle cx="911.7" cy="3145.0" r="7.9" fill="url(#Dy)"/>
<circle cx="926.3" cy="3141.4" r="7.9" fill="url(#Dy)"/>
<circle cx="928.1" cy="3152.3" r="7.9" fill="url(#Dy)"/>
<circle cx="948.2" cy="3145.0" r="7.9" fill="url(#Dy)"/>
<circle cx="926.3" cy="3176.0" r="7.9" fill="url(#Dy)"/>
<circle cx="937.2" cy="3168.7" r="7.9" fill="url(#Dy)"/>
<circle cx="948.2" cy="3188.8" r="7.9" fill="url(#Dy)"/>
<circle cx="940.9" cy="3205.2" r="7.9" fill="url(#Dy)"/>
<circle cx="944.5" cy="3196.1" r="7.9" fill="url(#Dy)"/>
<circle cx="955.4" cy="2936.1" r="7.9" fill="url(#Dy)"/>
<circle cx="925.9" cy="2963.6" r="7.9" fill="url(#Dy)"/>
<circle cx="950.5" cy="2979.3" r="7.9" fill="url(#Dy)"/>
<circle cx="928.9" cy="2993.1" r="7.9" fill="url(#Dy)"/>
<circle cx="932.8" cy="3015.7" r="7.9" fill="url(#Dy)"/>
<circle cx="950.5" cy="3013.8" r="7.9" fill="url(#Dy)"/>
<circle cx="971.1" cy="3027.5" r="7.9" fill="url(#Dy)"/>
<circle cx="987.9" cy="3033.4" r="7.9" fill="url(#Dy)"/>
<circle cx="975.1" cy="3043.3" r="7.9" fill="url(#Dy)"/>
<circle cx="937.7" cy="3053.1" r="7.9" fill="url(#Dy)"/>
<circle cx="920.0" cy="3057.0" r="7.9" fill="url(#Dy)"/>
<circle cx="975.1" cy="3061.0" r="7.9" fill="url(#Dy)"/>
<circle cx="994.7" cy="3068.8" r="7.9" fill="url(#Dy)"/>
<circle cx="1002.6" cy="3074.7" r="7.9" fill="url(#Dy)"/>
<circle cx="937.7" cy="3078.7" r="7.9" fill="url(#Dy)"/>
<circle cx="959.3" cy="3080.6" r="7.9" fill="url(#Dy)"/>
<circle cx="982.9" cy="3086.5" r="7.9" fill="url(#Dy)"/>
<circle cx="923.9" cy="3088.5" r="7.9" fill="url(#Dy)"/>
<circle cx="937.7" cy="3096.4" r="7.9" fill="url(#Dy)"/>
<circle cx="955.4" cy="3094.4" r="7.9" fill="url(#Dy)"/>
<circle cx="967.2" cy="3096.4" r="7.9" fill="url(#Dy)"/>
<circle cx="951.5" cy="3104.2" r="7.9" fill="url(#Dy)"/>
<circle cx="988.8" cy="3106.2" r="7.9" fill="url(#Dy)"/>
<circle cx="1012.4" cy="3108.2" r="7.9" fill="url(#Dy)"/>
<circle cx="937.7" cy="3118.0" r="7.9" fill="url(#Dy)"/>
<circle cx="967.2" cy="3118.0" r="7.9" fill="url(#Dy)"/>
<circle cx="984.9" cy="3123.9" r="7.9" fill="url(#Dy)"/>
<circle cx="1008.5" cy="3116.0" r="7.9" fill="url(#Dy)"/>
<circle cx="925.9" cy="3143.6" r="7.9" fill="url(#Dy)"/>
<circle cx="951.5" cy="3143.6" r="7.9" fill="url(#Dy)"/>
<circle cx="971.1" cy="3139.6" r="7.9" fill="url(#Dy)"/>
<circle cx="1008.5" cy="3141.6" r="7.9" fill="url(#Dy)"/>
<circle cx="990.8" cy="3153.4" r="7.9" fill="url(#Dy)"/>
<circle cx="939.7" cy="3155.4" r="7.9" fill="url(#Dy)"/>
<circle cx="959.3" cy="3151.4" r="7.9" fill="url(#Dy)"/>
<circle cx="971.1" cy="3163.2" r="7.9" fill="url(#Dy)"/>
<circle cx="951.5" cy="3169.1" r="7.9" fill="url(#Dy)"/>
<circle cx="935.7" cy="3167.2" r="7.9" fill="url(#Dy)"/>
<circle cx="925.9" cy="3177.0" r="7.9" fill="url(#Dy)"/>
<circle cx="967.2" cy="3179.0" r="7.9" fill="url(#Dy)"/>
<circle cx="949.5" cy="3184.9" r="7.9" fill="url(#Dy)"/>
<circle cx="994.7" cy="3186.8" r="7.9" fill="url(#Dy)"/>
<circle cx="1018.3" cy="3167.2" r="7.9" fill="url(#Dy)"/>
<circle cx="1036.1" cy="3163.2" r="7.9" fill="url(#Dy)"/>
<circle cx="1032.1" cy="3194.7" r="7.9" fill="url(#Dy)"/>
<circle cx="939.7" cy="3200.6" r="7.9" fill="url(#Dy)"/>
<circle cx="955.4" cy="3198.6" r="7.9" fill="url(#Dy)"/>
<circle cx="967.2" cy="3202.6" r="7.9" fill="url(#Dy)"/>
<circle cx="975.1" cy="3206.5" r="7.9" fill="url(#Dy)"/>
<circle cx="992.8" cy="3204.5" r="7.9" fill="url(#Dy)"/>
<circle cx="1016.4" cy="3206.5" r="7.9" fill="url(#Dy)"/>
<circle cx="945.6" cy="3190.8" r="7.9" fill="url(#Dy)"/>
<circle cx="920.0" cy="3116.0" r="7.9" fill="url(#Dy)"/>
<circle cx="920.0" cy="3135.7" r="7.9" fill="url(#Dy)"/>
<circle cx="931.8" cy="3186.8" r="7.9" fill="url(#Dy)"/>
<circle cx="982.9" cy="3194.7" r="7.9" fill="url(#Dy)"/>
<circle cx="1029.2" cy="2666.1" r="7.9" fill="url(#Do)"/>
<circle cx="1117.7" cy="2649.2" r="7.9" fill="url(#Do)"/>
<circle cx="1168.5" cy="2775.5" r="7.9" fill="url(#Do)"/>
<circle cx="1126.8" cy="2789.8" r="7.9" fill="url(#Do)"/>
<circle cx="1048.7" cy="2860.2" r="7.9" fill="url(#Do)"/>
<circle cx="1093.0" cy="2856.2" r="7.9" fill="url(#Do)"/>
<circle cx="1087.8" cy="2866.7" r="7.9" fill="url(#Do)"/>
<circle cx="1102.1" cy="2874.5" r="7.9" fill="url(#Do)"/>
<circle cx="1120.3" cy="2845.8" r="7.9" fill="url(#Do)"/>
<circle cx="1050.0" cy="2892.7" r="7.9" fill="url(#Do)"/>
<circle cx="1182.8" cy="2878.4" r="7.9" fill="url(#Do)"/>
<circle cx="1164.6" cy="2896.6" r="7.9" fill="url(#Do)"/>
<circle cx="1138.5" cy="2920.1" r="7.9" fill="url(#Do)"/>
<circle cx="1073.4" cy="2937.0" r="7.9" fill="url(#Do)"/>
<circle cx="1093.0" cy="2944.8" r="7.9" fill="url(#Do)"/>
<circle cx="1049.8" cy="2893.8" r="7.9" fill="url(#Do)"/>
<circle cx="1165.9" cy="2896.7" r="7.9" fill="url(#Do)"/>
<circle cx="1183.6" cy="2881.0" r="7.9" fill="url(#Do)"/>
<circle cx="1102.9" cy="2880.0" r="7.9" fill="url(#Do)"/>
<circle cx="1139.3" cy="2920.3" r="7.9" fill="url(#Do)"/>
<circle cx="1073.4" cy="2938.0" r="7.9" fill="url(#Do)"/>
<circle cx="1093.1" cy="2946.9" r="7.9" fill="url(#Do)"/>
<circle cx="1005.6" cy="2991.1" r="7.9" fill="url(#Do)"/>
<circle cx="1054.7" cy="3049.2" r="7.9" fill="url(#Do)"/>
<circle cx="1045.9" cy="3061.9" r="7.9" fill="url(#Do)"/>
<circle cx="1066.5" cy="3061.9" r="7.9" fill="url(#Do)"/>
<circle cx="1017.4" cy="3068.8" r="7.9" fill="url(#Do)"/>
<circle cx="1070.5" cy="3084.6" r="7.9" fill="url(#Do)"/>
<circle cx="1110.8" cy="3085.5" r="7.9" fill="url(#Do)"/>
<circle cx="1133.4" cy="3076.7" r="7.9" fill="url(#Do)"/>
<circle cx="1146.2" cy="3058.0" r="7.9" fill="url(#Do)"/>
<circle cx="1160.0" cy="3041.3" r="7.9" fill="url(#Do)"/>
<circle cx="1173.7" cy="3043.3" r="7.9" fill="url(#Do)"/>
<circle cx="1177.7" cy="3068.8" r="7.9" fill="url(#Do)"/>
<circle cx="1158.0" cy="3106.2" r="7.9" fill="url(#Do)"/>
<circle cx="1036.1" cy="3098.3" r="7.9" fill="url(#Do)"/>
<circle cx="1022.3" cy="3100.3" r="7.9" fill="url(#Do)"/>
<circle cx="1032.1" cy="3123.9" r="7.9" fill="url(#Do)"/>
<circle cx="1047.9" cy="3125.9" r="7.9" fill="url(#Do)"/>
<circle cx="1061.6" cy="3139.6" r="7.9" fill="url(#Do)"/>
<circle cx="1053.8" cy="3149.5" r="7.9" fill="url(#Do)"/>
<circle cx="1012.4" cy="3157.3" r="7.9" fill="url(#Do)"/>
<circle cx="1036.1" cy="3157.3" r="7.9" fill="url(#Do)"/>
<circle cx="1101.0" cy="3141.6" r="7.9" fill="url(#Do)"/>
<circle cx="1110.8" cy="3145.5" r="7.9" fill="url(#Do)"/>
<circle cx="1120.6" cy="3155.4" r="7.9" fill="url(#Do)"/>
<circle cx="1140.3" cy="3139.6" r="7.9" fill="url(#Do)"/>
<circle cx="1152.1" cy="3147.5" r="7.9" fill="url(#Do)"/>
<circle cx="1158.0" cy="3135.7" r="7.9" fill="url(#Do)"/>
<circle cx="1173.7" cy="3133.7" r="7.9" fill="url(#Do)"/>
<circle cx="1191.4" cy="3135.7" r="7.9" fill="url(#Do)"/>
<circle cx="1171.8" cy="3151.4" r="7.9" fill="url(#Do)"/>
<circle cx="1152.1" cy="3157.3" r="7.9" fill="url(#Do)"/>
<circle cx="1057.7" cy="3171.1" r="7.9" fill="url(#Do)"/>
<circle cx="1089.2" cy="3179.0" r="7.9" fill="url(#Do)"/>
<circle cx="1114.7" cy="3171.1" r="7.9" fill="url(#Do)"/>
<circle cx="1118.7" cy="3186.8" r="7.9" fill="url(#Do)"/>
<circle cx="1116.7" cy="3198.6" r="7.9" fill="url(#Do)"/>
<circle cx="1104.9" cy="3206.5" r="7.9" fill="url(#Do)"/>
<circle cx="1126.5" cy="3214.4" r="7.9" fill="url(#Do)"/>
<circle cx="1136.4" cy="3208.5" r="7.9" fill="url(#Do)"/>
<circle cx="1152.1" cy="3202.6" r="7.9" fill="url(#Do)"/>
<circle cx="1038.0" cy="3184.9" r="7.9" fill="url(#Do)"/>
<circle cx="1065.6" cy="3188.8" r="7.9" fill="url(#Do)"/>
<circle cx="1008.5" cy="3177.0" r="7.9" fill="url(#Do)"/>
<circle cx="1183.6" cy="3167.2" r="7.9" fill="url(#Do)"/>
<circle cx="1165.9" cy="3182.9" r="7.9" fill="url(#Do)"/>
<circle cx="1191.4" cy="3214.4" r="7.9" fill="url(#Do)"/>
<circle cx="1277.9" cy="2638.8" r="7.9" fill="url(#Dr)"/>
<circle cx="1276.6" cy="2707.8" r="7.9" fill="url(#Dr)"/>
<circle cx="1203.1" cy="2715.6" r="7.9" fill="url(#Dr)"/>
<circle cx="1285.7" cy="2793.8" r="7.9" fill="url(#Dr)"/>
<circle cx="1266.7" cy="2407.0" r="7.9" fill="url(#Dr)"/>
<circle cx="1278.3" cy="2638.0" r="7.9" fill="url(#Dr)"/>
<circle cx="1276.2" cy="2708.4" r="7.9" fill="url(#Dr)"/>
<circle cx="1204.3" cy="2716.2" r="7.9" fill="url(#Dr)"/>
<circle cx="1285.5" cy="2793.9" r="7.9" fill="url(#Dr)"/>
<circle cx="1342.0" cy="2811.9" r="7.9" fill="url(#Dr)"/>
<circle cx="1387.0" cy="2932.2" r="7.9" fill="url(#Dr)"/>
<circle cx="1084.2" cy="3023.6" r="7.9" fill="url(#Dr)"/>
<circle cx="1186.5" cy="2998.0" r="7.9" fill="url(#Dr)"/>
<circle cx="1211.1" cy="3025.6" r="7.9" fill="url(#Dr)"/>
<circle cx="1230.8" cy="3034.4" r="7.9" fill="url(#Dr)"/>
<circle cx="1222.9" cy="3070.8" r="7.9" fill="url(#Dr)"/>
<circle cx="1167.8" cy="3064.9" r="7.9" fill="url(#Dr)"/>
<circle cx="1175.7" cy="3085.5" r="7.9" fill="url(#Dr)"/>
<circle cx="1236.7" cy="3098.3" r="7.9" fill="url(#Dr)"/>
<circle cx="1222.9" cy="3120.0" r="7.9" fill="url(#Dr)"/>
<circle cx="1222.9" cy="3140.6" r="7.9" fill="url(#Dr)"/>
<circle cx="1222.9" cy="3163.2" r="7.9" fill="url(#Dr)"/>
<circle cx="1234.7" cy="3157.3" r="7.9" fill="url(#Dr)"/>
<circle cx="1193.4" cy="3171.1" r="7.9" fill="url(#Dr)"/>
<circle cx="1203.2" cy="3182.9" r="7.9" fill="url(#Dr)"/>
<circle cx="1211.1" cy="3190.8" r="7.9" fill="url(#Dr)"/>
<circle cx="1193.4" cy="3198.6" r="7.9" fill="url(#Dr)"/>
<circle cx="1143.2" cy="3177.0" r="7.9" fill="url(#Dr)"/>
<circle cx="1222.9" cy="3220.3" r="7.9" fill="url(#Dr)"/>
<circle cx="1236.7" cy="3200.6" r="7.9" fill="url(#Dr)"/>
<circle cx="1386.9" cy="2933.1" r="7.9" fill="url(#Dr)"/>
<circle cx="1249.2" cy="2959.7" r="7.9" fill="url(#Dr)"/>
<circle cx="1322.0" cy="2957.7" r="7.9" fill="url(#Dr)"/>
<circle cx="1303.3" cy="2991.1" r="7.9" fill="url(#Dr)"/>
<circle cx="1307.2" cy="3012.8" r="7.9" fill="url(#Dr)"/>
<circle cx="1210.8" cy="3024.6" r="7.9" fill="url(#Dr)"/>
<circle cx="1231.5" cy="3033.4" r="7.9" fill="url(#Dr)"/>
<circle cx="1222.6" cy="3071.8" r="7.9" fill="url(#Dr)"/>
<circle cx="1355.4" cy="3063.9" r="7.9" fill="url(#Dr)"/>
<circle cx="1240.3" cy="3099.3" r="7.9" fill="url(#Dr)"/>
<circle cx="1262.9" cy="3101.3" r="7.9" fill="url(#Dr)"/>
<circle cx="1312.1" cy="3106.2" r="7.9" fill="url(#Dr)"/>
<circle cx="1222.6" cy="3120.0" r="7.9" fill="url(#Dr)"/>
<circle cx="1262.9" cy="3118.0" r="7.9" fill="url(#Dr)"/>
<circle cx="1286.5" cy="3115.1" r="7.9" fill="url(#Dr)"/>
<circle cx="1302.3" cy="3130.8" r="7.9" fill="url(#Dr)"/>
<circle cx="1280.6" cy="3137.7" r="7.9" fill="url(#Dr)"/>
<circle cx="1222.6" cy="3140.6" r="7.9" fill="url(#Dr)"/>
<circle cx="1381.9" cy="3142.6" r="7.9" fill="url(#Dr)"/>
<circle cx="1221.6" cy="3164.2" r="7.9" fill="url(#Dr)"/>
<circle cx="1235.4" cy="3157.3" r="7.9" fill="url(#Dr)"/>
<circle cx="1249.2" cy="3161.3" r="7.9" fill="url(#Dr)"/>
<circle cx="1276.7" cy="3161.3" r="7.9" fill="url(#Dr)"/>
<circle cx="1272.8" cy="3170.1" r="7.9" fill="url(#Dr)"/>
<circle cx="1296.4" cy="3163.2" r="7.9" fill="url(#Dr)"/>
<circle cx="1309.2" cy="3158.3" r="7.9" fill="url(#Dr)"/>
<circle cx="1320.0" cy="3159.3" r="7.9" fill="url(#Dr)"/>
<circle cx="1286.5" cy="3180.9" r="7.9" fill="url(#Dr)"/>
<circle cx="1259.0" cy="3184.9" r="7.9" fill="url(#Dr)"/>
<circle cx="1266.9" cy="3194.7" r="7.9" fill="url(#Dr)"/>
<circle cx="1205.9" cy="3183.9" r="7.9" fill="url(#Dr)"/>
<circle cx="1211.8" cy="3192.7" r="7.9" fill="url(#Dr)"/>
<circle cx="1306.2" cy="3189.8" r="7.9" fill="url(#Dr)"/>
<circle cx="1316.1" cy="3186.8" r="7.9" fill="url(#Dr)"/>
<circle cx="1243.3" cy="3204.5" r="7.9" fill="url(#Dr)"/>
<circle cx="1251.1" cy="3201.6" r="7.9" fill="url(#Dr)"/>
<circle cx="1320.0" cy="3208.5" r="7.9" fill="url(#Dr)"/>
<circle cx="1327.9" cy="3222.3" r="7.9" fill="url(#Dr)"/>
<circle cx="1368.2" cy="3216.3" r="7.9" fill="url(#Dr)"/>
<circle cx="1222.6" cy="3220.3" r="7.9" fill="url(#Dr)"/>
<circle cx="1399.6" cy="3170.1" r="7.9" fill="url(#Dr)"/>
<circle cx="2709.6" cy="2406.5" r="6.6" fill="url(#Dr)"/>
<circle cx="2650.4" cy="2599.7" r="6.6" fill="url(#Dr)"/>
<circle cx="2667.7" cy="2656.1" r="6.6" fill="url(#Dr)"/>
<circle cx="2731.1" cy="2675.0" r="6.6" fill="url(#Dr)"/>
<circle cx="2660.0" cy="2725.5" r="6.6" fill="url(#Dr)"/>
<circle cx="2672.1" cy="2723.4" r="6.6" fill="url(#Dr)"/>
<circle cx="2627.6" cy="2816.0" r="6.6" fill="url(#Dr)"/>
<circle cx="2685.1" cy="2847.6" r="6.6" fill="url(#Dr)"/>
<circle cx="2693.6" cy="2868.3" r="6.6" fill="url(#Dr)"/>
<circle cx="2691.0" cy="2881.2" r="6.6" fill="url(#Dr)"/>
<circle cx="2731.1" cy="2892.9" r="6.6" fill="url(#Dr)"/>
<circle cx="2691.3" cy="2881.8" r="6.6" fill="url(#Dr)"/>
<circle cx="2731.4" cy="2892.8" r="6.6" fill="url(#Dr)"/>
<circle cx="2735.9" cy="2911.9" r="6.6" fill="url(#Dr)"/>
<circle cx="2660.3" cy="2929.2" r="6.6" fill="url(#Dr)"/>
<circle cx="2704.9" cy="2931.0" r="6.6" fill="url(#Dr)"/>
<circle cx="2765.1" cy="2927.4" r="6.6" fill="url(#Dr)"/>
<circle cx="2596.5" cy="2974.8" r="6.6" fill="url(#Dr)"/>
<circle cx="2642.1" cy="2977.5" r="6.6" fill="url(#Dr)"/>
<circle cx="2666.7" cy="2980.3" r="6.6" fill="url(#Dr)"/>
<circle cx="2663.0" cy="2987.5" r="6.6" fill="url(#Dr)"/>
<circle cx="2694.0" cy="2985.7" r="6.6" fill="url(#Dr)"/>
<circle cx="2705.9" cy="2980.3" r="6.6" fill="url(#Dr)"/>
<circle cx="2718.6" cy="2988.5" r="6.6" fill="url(#Dr)"/>
<circle cx="2604.7" cy="2994.8" r="6.6" fill="url(#Dr)"/>
<circle cx="2626.6" cy="3003.0" r="6.6" fill="url(#Dr)"/>
<circle cx="2682.2" cy="2996.7" r="6.6" fill="url(#Dr)"/>
<circle cx="2716.8" cy="3004.9" r="6.6" fill="url(#Dr)"/>
<circle cx="2729.5" cy="3004.9" r="6.6" fill="url(#Dr)"/>
<circle cx="2587.4" cy="3013.1" r="6.6" fill="url(#Dr)"/>
<circle cx="2657.5" cy="3017.6" r="6.6" fill="url(#Dr)"/>
<circle cx="2667.6" cy="3025.8" r="6.6" fill="url(#Dr)"/>
<circle cx="2684.9" cy="3016.7" r="6.6" fill="url(#Dr)"/>
<circle cx="2685.8" cy="3029.5" r="6.6" fill="url(#Dr)"/>
<circle cx="2699.5" cy="3034.9" r="6.6" fill="url(#Dr)"/>
<circle cx="2710.4" cy="3033.1" r="6.6" fill="url(#Dr)"/>
<circle cx="2714.1" cy="3042.2" r="6.6" fill="url(#Dr)"/>
<circle cx="2726.8" cy="3022.2" r="6.6" fill="url(#Dr)"/>
<circle cx="2726.8" cy="3031.3" r="6.6" fill="url(#Dr)"/>
<circle cx="2628.4" cy="3031.3" r="6.6" fill="url(#Dr)"/>
<circle cx="2648.4" cy="3044.1" r="6.6" fill="url(#Dr)"/>
<circle cx="2681.2" cy="3038.6" r="6.6" fill="url(#Dr)"/>
<circle cx="2593.7" cy="3052.3" r="6.6" fill="url(#Dr)"/>
<circle cx="2614.7" cy="3050.4" r="6.6" fill="url(#Dr)"/>
<circle cx="2631.1" cy="3055.0" r="6.6" fill="url(#Dr)"/>
<circle cx="2657.5" cy="3059.5" r="6.6" fill="url(#Dr)"/>
<circle cx="2681.2" cy="3052.3" r="6.6" fill="url(#Dr)"/>
<circle cx="2692.2" cy="3055.0" r="6.6" fill="url(#Dr)"/>
<circle cx="2722.3" cy="3055.9" r="6.6" fill="url(#Dr)"/>
<circle cx="2688.5" cy="3064.1" r="6.6" fill="url(#Dr)"/>
<circle cx="2699.5" cy="3065.9" r="6.6" fill="url(#Dr)"/>
<circle cx="2670.3" cy="3069.6" r="6.6" fill="url(#Dr)"/>
<circle cx="2672.1" cy="3075.0" r="6.6" fill="url(#Dr)"/>
<circle cx="2692.2" cy="3075.0" r="6.6" fill="url(#Dr)"/>
<circle cx="2697.6" cy="3080.5" r="6.6" fill="url(#Dr)"/>
<circle cx="2711.3" cy="3088.7" r="6.6" fill="url(#Dr)"/>
<circle cx="2746.9" cy="3051.3" r="6.6" fill="url(#Dr)"/>
<circle cx="2739.6" cy="3064.1" r="6.6" fill="url(#Dr)"/>
<circle cx="2752.3" cy="2963.8" r="6.6" fill="url(#Dr)"/>
<circle cx="2789.3" cy="2637.5" r="6.6" fill="url(#Do)"/>
<circle cx="2817.3" cy="2672.2" r="6.6" fill="url(#Do)"/>
<circle cx="2759.1" cy="2731.2" r="6.6" fill="url(#Do)"/>
<circle cx="2823.7" cy="2746.7" r="6.6" fill="url(#Do)"/>
<circle cx="2783.4" cy="2799.7" r="6.6" fill="url(#Do)"/>
<circle cx="2795.3" cy="2808.8" r="6.6" fill="url(#Do)"/>
<circle cx="2780.3" cy="2816.6" r="6.6" fill="url(#Do)"/>
<circle cx="2782.9" cy="2828.2" r="6.6" fill="url(#Do)"/>
<circle cx="2826.3" cy="2820.4" r="6.6" fill="url(#Do)"/>
<circle cx="2856.1" cy="2821.7" r="6.6" fill="url(#Do)"/>
<circle cx="2744.6" cy="2833.4" r="6.6" fill="url(#Do)"/>
<circle cx="2766.8" cy="2858.0" r="6.6" fill="url(#Do)"/>
<circle cx="2826.3" cy="2852.8" r="6.6" fill="url(#Do)"/>
<circle cx="2803.6" cy="2886.4" r="6.6" fill="url(#Do)"/>
<circle cx="2769.4" cy="2891.6" r="6.6" fill="url(#Do)"/>
<circle cx="2803.4" cy="2886.4" r="6.6" fill="url(#Do)"/>
<circle cx="2769.7" cy="2891.8" r="6.6" fill="url(#Do)"/>
<circle cx="2685.8" cy="2959.3" r="6.6" fill="url(#Do)"/>
<circle cx="2751.4" cy="2952.9" r="6.6" fill="url(#Do)"/>
<circle cx="2767.8" cy="2952.0" r="6.6" fill="url(#Do)"/>
<circle cx="2785.1" cy="2948.4" r="6.6" fill="url(#Do)"/>
<circle cx="2757.8" cy="2971.1" r="6.6" fill="url(#Do)"/>
<circle cx="2773.3" cy="2967.5" r="6.6" fill="url(#Do)"/>
<circle cx="2815.2" cy="2965.7" r="6.6" fill="url(#Do)"/>
<circle cx="2863.5" cy="2977.5" r="6.6" fill="url(#Do)"/>
<circle cx="2847.1" cy="2985.7" r="6.6" fill="url(#Do)"/>
<circle cx="2742.3" cy="2989.4" r="6.6" fill="url(#Do)"/>
<circle cx="2754.2" cy="2999.4" r="6.6" fill="url(#Do)"/>
<circle cx="2780.6" cy="3000.3" r="6.6" fill="url(#Do)"/>
<circle cx="2818.0" cy="3000.3" r="6.6" fill="url(#Do)"/>
<circle cx="2759.6" cy="3011.2" r="6.6" fill="url(#Do)"/>
<circle cx="2757.8" cy="3018.5" r="6.6" fill="url(#Do)"/>
<circle cx="2737.8" cy="3027.6" r="6.6" fill="url(#Do)"/>
<circle cx="2768.7" cy="3033.1" r="6.6" fill="url(#Do)"/>
<circle cx="2776.0" cy="3029.5" r="6.6" fill="url(#Do)"/>
<circle cx="2785.1" cy="3034.9" r="6.6" fill="url(#Do)"/>
<circle cx="2803.4" cy="3036.8" r="6.6" fill="url(#Do)"/>
<circle cx="2821.6" cy="3034.9" r="6.6" fill="url(#Do)"/>
<circle cx="2770.6" cy="3044.1" r="6.6" fill="url(#Do)"/>
<circle cx="2801.5" cy="3047.7" r="6.6" fill="url(#Do)"/>
<circle cx="2827.1" cy="3045.9" r="6.6" fill="url(#Do)"/>
<circle cx="2763.3" cy="3052.3" r="6.6" fill="url(#Do)"/>
<circle cx="2759.6" cy="3064.1" r="6.6" fill="url(#Do)"/>
<circle cx="2776.0" cy="3064.1" r="6.6" fill="url(#Do)"/>
<circle cx="2783.3" cy="3069.6" r="6.6" fill="url(#Do)"/>
<circle cx="2814.3" cy="3065.9" r="6.6" fill="url(#Do)"/>
<circle cx="2808.8" cy="3076.9" r="6.6" fill="url(#Do)"/>
<circle cx="2788.8" cy="3082.3" r="6.6" fill="url(#Do)"/>
<circle cx="2818.0" cy="3082.3" r="6.6" fill="url(#Do)"/>
<circle cx="2752.3" cy="3082.3" r="6.6" fill="url(#Do)"/>
<circle cx="2752.3" cy="3095.1" r="6.6" fill="url(#Do)"/>
<circle cx="2776.0" cy="3095.1" r="6.6" fill="url(#Do)"/>
<circle cx="2799.7" cy="3098.7" r="6.6" fill="url(#Do)"/>
<circle cx="2818.0" cy="3091.4" r="6.6" fill="url(#Do)"/>
<circle cx="2823.4" cy="3098.7" r="6.6" fill="url(#Do)"/>
<circle cx="2863.5" cy="2977.9" r="6.6" fill="url(#Do)"/>
<circle cx="2850.0" cy="2986.2" r="6.6" fill="url(#Do)"/>
<circle cx="2875.0" cy="3017.5" r="6.6" fill="url(#Do)"/>
<circle cx="2884.3" cy="2575.2" r="6.6" fill="url(#Dy)"/>
<circle cx="2835.4" cy="2631.0" r="6.6" fill="url(#Dy)"/>
<circle cx="2883.2" cy="2711.8" r="6.6" fill="url(#Dy)"/>
<circle cx="2894.1" cy="2757.1" r="6.6" fill="url(#Dy)"/>
<circle cx="2914.8" cy="2772.6" r="6.6" fill="url(#Dy)"/>
<circle cx="2859.2" cy="2830.8" r="6.6" fill="url(#Dy)"/>
<circle cx="2891.0" cy="2824.3" r="6.6" fill="url(#Dy)"/>
<circle cx="2937.6" cy="2831.6" r="6.6" fill="url(#Dy)"/>
<circle cx="2777.9" cy="2918.3" r="6.6" fill="url(#Dy)"/>
<circle cx="2884.5" cy="2944.7" r="6.6" fill="url(#Dy)"/>
<circle cx="2898.2" cy="2936.5" r="6.6" fill="url(#Dy)"/>
<circle cx="2896.3" cy="2952.0" r="6.6" fill="url(#Dy)"/>
<circle cx="2821.6" cy="2979.3" r="6.6" fill="url(#Dy)"/>
<circle cx="2868.1" cy="2991.2" r="6.6" fill="url(#Dy)"/>
<circle cx="2879.9" cy="2980.3" r="6.6" fill="url(#Dy)"/>
<circle cx="2892.7" cy="2973.0" r="6.6" fill="url(#Dy)"/>
<circle cx="2837.1" cy="3013.1" r="6.6" fill="url(#Dy)"/>
<circle cx="2861.7" cy="3012.2" r="6.6" fill="url(#Dy)"/>
<circle cx="2886.3" cy="3010.3" r="6.6" fill="url(#Dy)"/>
<circle cx="2896.3" cy="3014.9" r="6.6" fill="url(#Dy)"/>
<circle cx="2876.3" cy="3020.4" r="6.6" fill="url(#Dy)"/>
<circle cx="2863.5" cy="3032.2" r="6.6" fill="url(#Dy)"/>
<circle cx="2848.9" cy="3040.4" r="6.6" fill="url(#Dy)"/>
<circle cx="2859.9" cy="3047.7" r="6.6" fill="url(#Dy)"/>
<circle cx="2885.4" cy="3031.3" r="6.6" fill="url(#Dy)"/>
<circle cx="2892.7" cy="3040.4" r="6.6" fill="url(#Dy)"/>
<circle cx="2834.4" cy="3067.8" r="6.6" fill="url(#Dy)"/>
<circle cx="2850.8" cy="3076.9" r="6.6" fill="url(#Dy)"/>
<circle cx="2843.5" cy="3087.8" r="6.6" fill="url(#Dy)"/>
<circle cx="2859.9" cy="3093.3" r="6.6" fill="url(#Dy)"/>
<circle cx="2874.5" cy="3076.9" r="6.6" fill="url(#Dy)"/>
<circle cx="2892.7" cy="3080.5" r="6.6" fill="url(#Dy)"/>
<circle cx="2841.7" cy="3096.9" r="6.6" fill="url(#Dy)"/>
<circle cx="2865.3" cy="3107.9" r="6.6" fill="url(#Dy)"/>
<circle cx="2848.9" cy="3117.0" r="6.6" fill="url(#Dy)"/>
<circle cx="2823.4" cy="3118.8" r="6.6" fill="url(#Dy)"/>
<circle cx="2834.4" cy="3127.9" r="6.6" fill="url(#Dy)"/>
<circle cx="2812.5" cy="3136.1" r="6.6" fill="url(#Dy)"/>
<circle cx="2870.8" cy="3135.2" r="6.6" fill="url(#Dy)"/>
<circle cx="2883.6" cy="3122.4" r="6.6" fill="url(#Dy)"/>
<circle cx="2896.3" cy="3107.9" r="6.6" fill="url(#Dy)"/>
<circle cx="2805.2" cy="3102.4" r="6.6" fill="url(#Dy)"/>
<circle cx="2892.7" cy="3067.8" r="6.6" fill="url(#Dy)"/>
<circle cx="2899.0" cy="2936.2" r="6.6" fill="url(#Dy)"/>
<circle cx="2884.4" cy="2944.6" r="6.6" fill="url(#Dy)"/>
<circle cx="2900.0" cy="2951.9" r="6.6" fill="url(#Dy)"/>
<circle cx="2907.3" cy="2960.2" r="6.6" fill="url(#Dy)"/>
<circle cx="2931.2" cy="2961.2" r="6.6" fill="url(#Dy)"/>
<circle cx="2944.8" cy="2961.2" r="6.6" fill="url(#Dy)"/>
<circle cx="2894.8" cy="2969.6" r="6.6" fill="url(#Dy)"/>
<circle cx="2881.2" cy="2979.0" r="6.6" fill="url(#Dy)"/>
<circle cx="2891.7" cy="2977.9" r="6.6" fill="url(#Dy)"/>
<circle cx="2905.2" cy="2977.9" r="6.6" fill="url(#Dy)"/>
<circle cx="2867.7" cy="2991.5" r="6.6" fill="url(#Dy)"/>
<circle cx="2904.2" cy="2997.7" r="6.6" fill="url(#Dy)"/>
<circle cx="2916.7" cy="3002.9" r="6.6" fill="url(#Dy)"/>
<circle cx="2886.5" cy="3009.2" r="6.6" fill="url(#Dy)"/>
<circle cx="2899.0" cy="3006.0" r="6.6" fill="url(#Dy)"/>
<circle cx="2860.4" cy="3011.2" r="6.6" fill="url(#Dy)"/>
<circle cx="2918.8" cy="3013.3" r="6.6" fill="url(#Dy)"/>
<circle cx="2897.9" cy="3017.5" r="6.6" fill="url(#Dy)"/>
<circle cx="2931.2" cy="3021.7" r="6.6" fill="url(#Dy)"/>
<circle cx="2941.7" cy="3025.8" r="6.6" fill="url(#Dy)"/>
<circle cx="2875.0" cy="3023.8" r="6.6" fill="url(#Dy)"/>
<circle cx="2881.2" cy="3030.0" r="6.6" fill="url(#Dy)"/>
<circle cx="2863.5" cy="3032.1" r="6.6" fill="url(#Dy)"/>
<circle cx="2887.5" cy="3038.3" r="6.6" fill="url(#Dy)"/>
<circle cx="2902.1" cy="3036.2" r="6.6" fill="url(#Dy)"/>
<circle cx="2912.5" cy="3041.5" r="6.6" fill="url(#Dy)"/>
<circle cx="2854.2" cy="3044.6" r="6.6" fill="url(#Dy)"/>
<circle cx="2945.8" cy="3040.4" r="6.6" fill="url(#Dy)"/>
<circle cx="2954.2" cy="3049.8" r="6.6" fill="url(#Dy)"/>
<circle cx="2887.5" cy="3048.8" r="6.6" fill="url(#Dy)"/>
<circle cx="2922.9" cy="3055.0" r="6.6" fill="url(#Dy)"/>
<circle cx="2858.3" cy="3052.9" r="6.6" fill="url(#Dy)"/>
<circle cx="2910.4" cy="3046.7" r="6.6" fill="url(#Dy)"/>
<circle cx="2937.5" cy="3065.4" r="6.6" fill="url(#Dy)"/>
<circle cx="2853.1" cy="3075.8" r="6.6" fill="url(#Dy)"/>
<circle cx="2879.2" cy="3073.8" r="6.6" fill="url(#Dy)"/>
<circle cx="2887.5" cy="3071.7" r="6.6" fill="url(#Dy)"/>
<circle cx="2904.2" cy="3075.8" r="6.6" fill="url(#Dy)"/>
<circle cx="2912.5" cy="3080.0" r="6.6" fill="url(#Dy)"/>
<circle cx="2893.8" cy="3083.1" r="6.6" fill="url(#Dy)"/>
<circle cx="2918.8" cy="3088.3" r="6.6" fill="url(#Dy)"/>
<circle cx="2854.2" cy="3090.4" r="6.6" fill="url(#Dy)"/>
<circle cx="2866.7" cy="3092.5" r="6.6" fill="url(#Dy)"/>
<circle cx="2875.0" cy="3102.9" r="6.6" fill="url(#Dy)"/>
<circle cx="2891.7" cy="3102.9" r="6.6" fill="url(#Dy)"/>
<circle cx="2904.2" cy="3105.0" r="6.6" fill="url(#Dy)"/>
<circle cx="2850.0" cy="3117.5" r="6.6" fill="url(#Dy)"/>
<circle cx="2879.2" cy="3119.6" r="6.6" fill="url(#Dy)"/>
<circle cx="2895.8" cy="3121.7" r="6.6" fill="url(#Dy)"/>
<circle cx="2870.8" cy="3134.2" r="6.6" fill="url(#Dy)"/>
<circle cx="2885.4" cy="3130.0" r="6.6" fill="url(#Dy)"/>
<circle cx="2850.0" cy="3100.8" r="6.6" fill="url(#Dy)"/>
<circle cx="2862.5" cy="3109.2" r="6.6" fill="url(#Dy)"/>
<circle cx="2892.7" cy="3062.3" r="6.6" fill="url(#Dl)"/>
<circle cx="2861.7" cy="3106.0" r="6.6" fill="url(#Dl)"/>
<circle cx="2892.7" cy="3113.3" r="6.6" fill="url(#Dl)"/>
<circle cx="2818.0" cy="3158.9" r="6.6" fill="url(#Dl)"/>
<circle cx="2825.2" cy="3168.0" r="6.6" fill="url(#Dl)"/>
<circle cx="2850.8" cy="3164.4" r="6.6" fill="url(#Dl)"/>
<circle cx="2876.3" cy="3146.1" r="6.6" fill="url(#Dl)"/>
<circle cx="2896.3" cy="3157.1" r="6.6" fill="url(#Dl)"/>
<circle cx="2935.4" cy="2986.2" r="6.6" fill="url(#Dl)"/>
<circle cx="2935.4" cy="3030.0" r="6.6" fill="url(#Dl)"/>
<circle cx="2995.8" cy="3050.8" r="6.6" fill="url(#Dl)"/>
<circle cx="2929.2" cy="3054.0" r="6.6" fill="url(#Dl)"/>
<circle cx="2894.8" cy="3062.3" r="6.6" fill="url(#Dl)"/>
<circle cx="2934.4" cy="3079.0" r="6.6" fill="url(#Dl)"/>
<circle cx="2962.5" cy="3088.3" r="6.6" fill="url(#Dl)"/>
<circle cx="2979.2" cy="3092.5" r="6.6" fill="url(#Dl)"/>
<circle cx="2937.5" cy="3094.6" r="6.6" fill="url(#Dl)"/>
<circle cx="2918.8" cy="3105.0" r="6.6" fill="url(#Dl)"/>
<circle cx="2931.2" cy="3107.1" r="6.6" fill="url(#Dl)"/>
<circle cx="2947.9" cy="3111.2" r="6.6" fill="url(#Dl)"/>
<circle cx="2860.4" cy="3105.0" r="6.6" fill="url(#Dl)"/>
<circle cx="2893.8" cy="3113.3" r="6.6" fill="url(#Dl)"/>
<circle cx="2918.8" cy="3119.6" r="6.6" fill="url(#Dl)"/>
<circle cx="2937.5" cy="3123.8" r="6.6" fill="url(#Dl)"/>
<circle cx="2954.2" cy="3125.8" r="6.6" fill="url(#Dl)"/>
<circle cx="2966.7" cy="3136.2" r="6.6" fill="url(#Dl)"/>
<circle cx="2904.2" cy="3134.2" r="6.6" fill="url(#Dl)"/>
<circle cx="2922.9" cy="3138.3" r="6.6" fill="url(#Dl)"/>
<circle cx="2941.7" cy="3138.3" r="6.6" fill="url(#Dl)"/>
<circle cx="3002.1" cy="3130.0" r="6.6" fill="url(#Dl)"/>
<circle cx="2987.5" cy="3140.4" r="6.6" fill="url(#Dl)"/>
<circle cx="2875.0" cy="3146.7" r="6.6" fill="url(#Dl)"/>
<circle cx="2900.0" cy="3150.8" r="6.6" fill="url(#Dl)"/>
<circle cx="2916.7" cy="3150.8" r="6.6" fill="url(#Dl)"/>
<circle cx="2937.5" cy="3150.8" r="6.6" fill="url(#Dl)"/>
<circle cx="2954.2" cy="3150.8" r="6.6" fill="url(#Dl)"/>
<circle cx="2970.8" cy="3157.1" r="6.6" fill="url(#Dl)"/>
<circle cx="2900.0" cy="3167.5" r="6.6" fill="url(#Dl)"/>
<circle cx="2916.7" cy="3163.3" r="6.6" fill="url(#Dl)"/>
<circle cx="2933.3" cy="3167.5" r="6.6" fill="url(#Dl)"/>
<circle cx="2950.0" cy="3163.3" r="6.6" fill="url(#Dl)"/>
<circle cx="2966.7" cy="3167.5" r="6.6" fill="url(#Dl)"/>
<circle cx="2983.3" cy="3163.3" r="6.6" fill="url(#Dl)"/>
<circle cx="2995.8" cy="3171.7" r="6.6" fill="url(#Dl)"/>
<circle cx="2947.9" cy="3180.0" r="6.6" fill="url(#Dl)"/>
<circle cx="2964.6" cy="3180.0" r="6.6" fill="url(#Dl)"/>
<circle cx="2975.0" cy="3184.2" r="6.6" fill="url(#Dl)"/>
<circle cx="3008.3" cy="3192.5" r="6.6" fill="url(#Dl)"/>
<circle cx="3020.8" cy="3175.8" r="6.6" fill="url(#Dl)"/>
<circle cx="2854.2" cy="3163.3" r="6.6" fill="url(#Dl)"/>
<circle cx="3003.1" cy="3131.2" r="6.6" fill="url(#Dl)"/>
<circle cx="3001.6" cy="3173.4" r="6.6" fill="url(#Dl)"/>
<circle cx="3006.2" cy="3193.8" r="6.6" fill="url(#Dl)"/>
<circle cx="3021.9" cy="3193.8" r="6.6" fill="url(#Dl)"/>
<circle cx="3020.3" cy="3175.0" r="6.6" fill="url(#Dl)"/>
<circle cx="2595.6" cy="3146.1" r="6.6" fill="url(#Dg)"/>
<circle cx="2787.0" cy="3140.7" r="6.6" fill="url(#Dg)"/>
<circle cx="2827.1" cy="3157.1" r="6.6" fill="url(#Dg)"/>
<circle cx="2859.9" cy="3173.5" r="6.6" fill="url(#Dg)"/>
<circle cx="2783.3" cy="3193.5" r="6.6" fill="url(#Dg)"/>
<circle cx="2790.6" cy="3204.5" r="6.6" fill="url(#Dg)"/>
<circle cx="2859.0" cy="3200.8" r="6.6" fill="url(#Dg)"/>
<circle cx="2898.2" cy="3138.8" r="6.6" fill="url(#Dg)"/>
<circle cx="2860.4" cy="3167.5" r="6.6" fill="url(#Dg)"/>
<circle cx="2859.4" cy="3194.6" r="6.6" fill="url(#Dg)"/>
<circle cx="3051.0" cy="3159.2" r="6.6" fill="url(#Dg)"/>
<circle cx="3045.8" cy="3171.7" r="6.6" fill="url(#Dg)"/>
<circle cx="3080.2" cy="3171.7" r="6.6" fill="url(#Dg)"/>
<circle cx="3025.0" cy="3182.1" r="6.6" fill="url(#Dg)"/>
<circle cx="3063.5" cy="3184.2" r="6.6" fill="url(#Dg)"/>
<circle cx="2929.2" cy="3196.7" r="6.6" fill="url(#Dg)"/>
<circle cx="2942.7" cy="3198.8" r="6.6" fill="url(#Dg)"/>
<circle cx="2972.9" cy="3198.8" r="6.6" fill="url(#Dg)"/>
<circle cx="3070.8" cy="3198.8" r="6.6" fill="url(#Dg)"/>
<circle cx="2958.3" cy="3209.2" r="6.6" fill="url(#Dg)"/>
<circle cx="2918.8" cy="3221.7" r="6.6" fill="url(#Dg)"/>
<circle cx="2941.7" cy="3219.6" r="6.6" fill="url(#Dg)"/>
<circle cx="2956.2" cy="3240.4" r="6.6" fill="url(#Dg)"/>
<circle cx="2979.2" cy="3225.8" r="6.6" fill="url(#Dg)"/>
<circle cx="2995.8" cy="3217.5" r="6.6" fill="url(#Dg)"/>
<circle cx="3000.0" cy="3234.2" r="6.6" fill="url(#Dg)"/>
<circle cx="3012.5" cy="3215.4" r="6.6" fill="url(#Dg)"/>
<circle cx="3033.3" cy="3205.0" r="6.6" fill="url(#Dg)"/>
<circle cx="3025.0" cy="3221.7" r="6.6" fill="url(#Dg)"/>
<circle cx="3043.8" cy="3217.5" r="6.6" fill="url(#Dg)"/>
<circle cx="3054.2" cy="3221.7" r="6.6" fill="url(#Dg)"/>
<circle cx="3070.8" cy="3213.3" r="6.6" fill="url(#Dg)"/>
<circle cx="3085.4" cy="3213.3" r="6.6" fill="url(#Dg)"/>
<circle cx="3016.7" cy="3234.2" r="6.6" fill="url(#Dg)"/>
<circle cx="3033.3" cy="3234.2" r="6.6" fill="url(#Dg)"/>
<circle cx="3050.0" cy="3238.3" r="6.6" fill="url(#Dg)"/>
<circle cx="3064.6" cy="3234.2" r="6.6" fill="url(#Dg)"/>
<circle cx="3079.2" cy="3230.0" r="6.6" fill="url(#Dg)"/>
<circle cx="3014.6" cy="3250.8" r="6.6" fill="url(#Dg)"/>
<circle cx="3029.2" cy="3252.9" r="6.6" fill="url(#Dg)"/>
<circle cx="3045.8" cy="3252.9" r="6.6" fill="url(#Dg)"/>
<circle cx="3062.5" cy="3250.8" r="6.6" fill="url(#Dg)"/>
<circle cx="3077.1" cy="3248.8" r="6.6" fill="url(#Dg)"/>
<circle cx="3091.7" cy="3246.7" r="6.6" fill="url(#Dg)"/>
<circle cx="3104.2" cy="3240.4" r="6.6" fill="url(#Dg)"/>
<circle cx="3118.8" cy="3248.8" r="6.6" fill="url(#Dg)"/>
<circle cx="3127.1" cy="3263.3" r="6.6" fill="url(#Dg)"/>
<circle cx="3041.7" cy="3267.5" r="6.6" fill="url(#Dg)"/>
<circle cx="3058.3" cy="3267.5" r="6.6" fill="url(#Dg)"/>
<circle cx="3070.8" cy="3273.8" r="6.6" fill="url(#Dg)"/>
<circle cx="3087.5" cy="3267.5" r="6.6" fill="url(#Dg)"/>
<circle cx="3100.0" cy="3267.5" r="6.6" fill="url(#Dg)"/>
<circle cx="3112.5" cy="3265.4" r="6.6" fill="url(#Dg)"/>
<circle cx="3051.6" cy="3159.4" r="6.6" fill="url(#Dg)"/>
<circle cx="3045.3" cy="3173.4" r="6.6" fill="url(#Dg)"/>
<circle cx="3080.5" cy="3171.9" r="6.6" fill="url(#Dg)"/>
<circle cx="3064.1" cy="3184.4" r="6.6" fill="url(#Dg)"/>
<circle cx="3025.0" cy="3184.4" r="6.6" fill="url(#Dg)"/>
<circle cx="3031.2" cy="3185.9" r="6.6" fill="url(#Dg)"/>
<circle cx="3071.1" cy="3200.0" r="6.6" fill="url(#Dg)"/>
<circle cx="3034.4" cy="3203.1" r="6.6" fill="url(#Dg)"/>
<circle cx="3085.2" cy="3212.5" r="6.6" fill="url(#Dg)"/>
<circle cx="3075.0" cy="3218.8" r="6.6" fill="url(#Dg)"/>
<circle cx="3051.6" cy="3215.6" r="6.6" fill="url(#Dg)"/>
<circle cx="3018.8" cy="3212.5" r="6.6" fill="url(#Dg)"/>
<circle cx="3003.1" cy="3225.0" r="6.6" fill="url(#Dg)"/>
<circle cx="3015.6" cy="3228.1" r="6.6" fill="url(#Dg)"/>
<circle cx="3028.1" cy="3225.0" r="6.6" fill="url(#Dg)"/>
<circle cx="3040.6" cy="3228.1" r="6.6" fill="url(#Dg)"/>
<circle cx="3053.1" cy="3228.1" r="6.6" fill="url(#Dg)"/>
<circle cx="3065.6" cy="3228.1" r="6.6" fill="url(#Dg)"/>
<circle cx="3009.4" cy="3240.6" r="6.6" fill="url(#Dg)"/>
<circle cx="3021.9" cy="3240.6" r="6.6" fill="url(#Dg)"/>
<circle cx="3034.4" cy="3237.5" r="6.6" fill="url(#Dg)"/>
<circle cx="3046.9" cy="3240.6" r="6.6" fill="url(#Dg)"/>
<circle cx="3059.4" cy="3237.5" r="6.6" fill="url(#Dg)"/>
<circle cx="3071.9" cy="3237.5" r="6.6" fill="url(#Dg)"/>
<circle cx="3084.4" cy="3240.6" r="6.6" fill="url(#Dg)"/>
<circle cx="3096.9" cy="3240.6" r="6.6" fill="url(#Dg)"/>
<circle cx="3106.2" cy="3237.5" r="6.6" fill="url(#Dg)"/>
<circle cx="3118.8" cy="3245.3" r="6.6" fill="url(#Dg)"/>
<circle cx="3012.5" cy="3251.6" r="6.6" fill="url(#Dg)"/>
<circle cx="3025.0" cy="3253.1" r="6.6" fill="url(#Dg)"/>
<circle cx="3037.5" cy="3254.7" r="6.6" fill="url(#Dg)"/>
<circle cx="3050.0" cy="3250.0" r="6.6" fill="url(#Dg)"/>
<circle cx="3062.5" cy="3253.1" r="6.6" fill="url(#Dg)"/>
<circle cx="3075.0" cy="3256.2" r="6.6" fill="url(#Dg)"/>
<circle cx="3087.5" cy="3256.2" r="6.6" fill="url(#Dg)"/>
<circle cx="3100.0" cy="3256.2" r="6.6" fill="url(#Dg)"/>
<circle cx="3112.5" cy="3259.4" r="6.6" fill="url(#Dg)"/>
<circle cx="3059.4" cy="3259.4" r="6.6" fill="url(#Dg)"/>
<circle cx="3128.1" cy="3262.5" r="6.6" fill="url(#Dg)"/>
<circle cx="3132.8" cy="3268.8" r="6.6" fill="url(#Dg)"/>
<circle cx="3109.4" cy="3271.9" r="6.6" fill="url(#Dg)"/>
<circle cx="3118.8" cy="3275.0" r="6.6" fill="url(#Dg)"/>
<circle cx="3125.0" cy="3284.4" r="6.6" fill="url(#Dg)"/>
<circle cx="3068.8" cy="3273.4" r="6.6" fill="url(#Dg)"/>
<circle cx="3082.8" cy="3281.2" r="6.6" fill="url(#Dg)"/>
<circle cx="3160.9" cy="3301.6" r="6.6" fill="url(#Dg)"/>
<circle cx="3000.0" cy="3234.4" r="6.6" fill="url(#Dg)"/>
<circle cx="2509.8" cy="3106.4" r="6.6" fill="url(#Dg)"/>
<circle cx="2504.8" cy="3119.9" r="6.6" fill="url(#Dg)"/>
<circle cx="2522.5" cy="3122.0" r="6.6" fill="url(#Dg)"/>
<circle cx="2508.8" cy="3146.5" r="6.6" fill="url(#Dg)"/>
<circle cx="2525.8" cy="3146.5" r="6.6" fill="url(#Dg)"/>
<circle cx="2595.9" cy="3144.9" r="6.6" fill="url(#Dg)"/>
</svg></body></html>
